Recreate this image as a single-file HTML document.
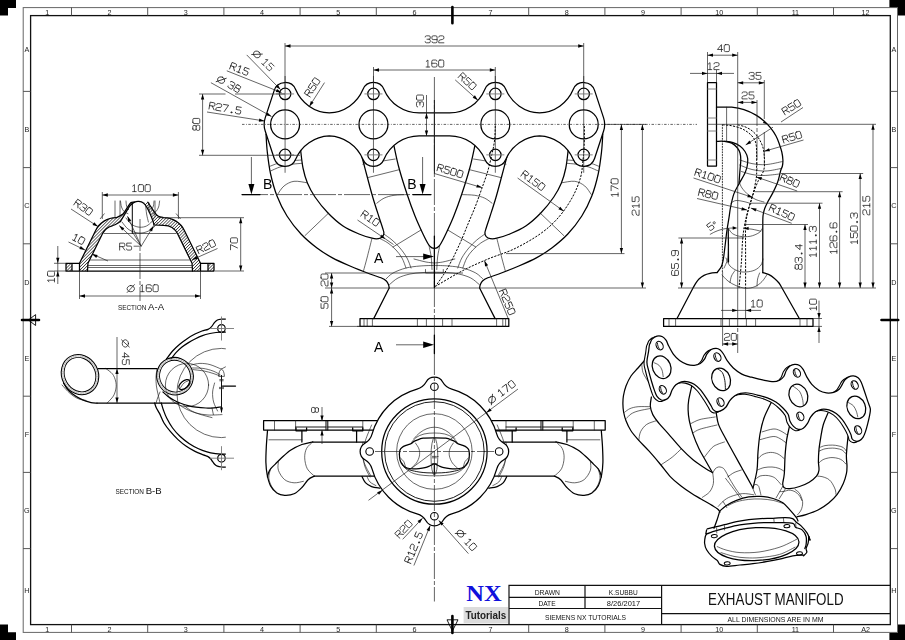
<!DOCTYPE html>
<html><head><meta charset="utf-8"><title>Exhaust Manifold</title><style>
html,body{margin:0;padding:0;background:#fff}
svg{display:block}
.s,.z,.t,.l,.gs{filter:grayscale(1)}
.k{fill:none;stroke:#000;stroke-width:1.25;stroke-linecap:round;stroke-linejoin:round}
.n{fill:none;stroke:#151515;stroke-width:0.65;stroke-linecap:round}
.g{fill:none;stroke:#777;stroke-width:0.9}
.d{fill:none;stroke:#222;stroke-width:0.7}
.d2{fill:none;stroke:#111;stroke-width:1}
.h{fill:none;stroke:#000;stroke-width:1;stroke-dasharray:2.2 1.3}
.h2{fill:none;stroke:#000;stroke-width:0.8;stroke-dasharray:1.8 0.9}
.c{fill:none;stroke:#222;stroke-width:0.7;stroke-dasharray:26 2 4 2}
.c2{fill:none;stroke:#222;stroke-width:0.7;stroke-dasharray:2.5 1.5 0.8 1.5}
.z{font-family:"Liberation Sans",sans-serif;font-size:7.2px;fill:#222;text-anchor:middle}
.t{font-family:"Liberation Sans",sans-serif;font-size:7.8px;fill:#111;text-anchor:middle}
.s{font-family:"Liberation Sans",sans-serif;font-size:14px;fill:#000;text-anchor:middle}
.l{font-family:"Liberation Sans",sans-serif;fill:#111;text-anchor:middle}
</style></head><body>
<svg width="905" height="640" viewBox="0 0 905 640">
<rect width="905" height="640" fill="#fff"/>
<path fill="#000" d="M0,0H16V8H8V15.5H0Z"/>
<path fill="#000" d="M905,0H889.4V8H897.5V15.5H905Z"/>
<path fill="#000" d="M0,640H16V632.3H8V624.5H0Z"/>
<path fill="#000" d="M905,640H889.4V632.4H897.5V624.4H905Z"/>
<rect x="23.2" y="7.6" width="874.3" height="624.8" fill="none" stroke="#666" stroke-width="1"/>
<rect x="30.6" y="15.6" width="859.7" height="609" fill="none" stroke="#111" stroke-width="1.3"/>
<path d="M71.5,7.6V15.6M71.5,624.6V632.4M147.7,7.6V15.6M147.7,624.6V632.4M223.9,7.6V15.6M223.9,624.6V632.4M300.1,7.6V15.6M300.1,624.6V632.4M376.3,7.6V15.6M376.3,624.6V632.4M528.7,7.6V15.6M528.7,624.6V632.4M604.9,7.6V15.6M604.9,624.6V632.4M681.1,7.6V15.6M681.1,624.6V632.4M757.3,7.6V15.6M757.3,624.6V632.4M833.5,7.6V15.6M833.5,624.6V632.4M23.2,91.4H30.6M890.3,91.4H897.5M23.2,167.6H30.6M890.3,167.6H897.5M23.2,243.8H30.6M890.3,243.8H897.5M23.2,396.2H30.6M890.3,396.2H897.5M23.2,472.4H30.6M890.3,472.4H897.5M23.2,548.6H30.6M890.3,548.6H897.5" stroke="#444" stroke-width="0.9" fill="none"/>
<text class="z" x="47.3" y="14.6">1</text>
<text class="z" x="47.3" y="631.6">1</text>
<text class="z" x="109.6" y="14.6">2</text>
<text class="z" x="109.6" y="631.6">2</text>
<text class="z" x="185.8" y="14.6">3</text>
<text class="z" x="185.8" y="631.6">3</text>
<text class="z" x="262" y="14.6">4</text>
<text class="z" x="262" y="631.6">4</text>
<text class="z" x="338.2" y="14.6">5</text>
<text class="z" x="338.2" y="631.6">5</text>
<text class="z" x="414.4" y="14.6">6</text>
<text class="z" x="414.4" y="631.6">6</text>
<text class="z" x="490.6" y="14.6">7</text>
<text class="z" x="490.6" y="631.6">7</text>
<text class="z" x="566.8" y="14.6">8</text>
<text class="z" x="566.8" y="631.6">8</text>
<text class="z" x="643" y="14.6">9</text>
<text class="z" x="643" y="631.6">9</text>
<text class="z" x="719.2" y="14.6">10</text>
<text class="z" x="719.2" y="631.6">10</text>
<text class="z" x="795.4" y="14.6">11</text>
<text class="z" x="795.4" y="631.6">11</text>
<text class="z" x="865.6" y="14.6">12</text>
<text class="z" x="865.6" y="631.6">A2</text>
<text class="z" x="26.9" y="52.1">A</text>
<text class="z" x="893.9" y="52.1">A</text>
<text class="z" x="26.9" y="132.1">B</text>
<text class="z" x="893.9" y="132.1">B</text>
<text class="z" x="26.9" y="208.3">C</text>
<text class="z" x="893.9" y="208.3">C</text>
<text class="z" x="26.9" y="284.5">D</text>
<text class="z" x="893.9" y="284.5">D</text>
<text class="z" x="26.9" y="360.7">E</text>
<text class="z" x="893.9" y="360.7">E</text>
<text class="z" x="26.9" y="436.9">F</text>
<text class="z" x="893.9" y="436.9">F</text>
<text class="z" x="26.9" y="513.1">G</text>
<text class="z" x="893.9" y="513.1">G</text>
<text class="z" x="26.9" y="593.1">H</text>
<text class="z" x="893.9" y="593.1">H</text>
<path d="M452.4,7V23.2M452.4,616V633M22,320H39M881.5,320H898.2" stroke="#000" stroke-width="2.6" stroke-linecap="round" fill="none"/>
<path d="M447,619.8H458L452.4,631Z M35.6,314.6V325.5L28.4,320Z" stroke="#000" stroke-width="0.9" fill="none"/>
<path d="M509,624.6V585.4H890.3M509,597.4H661.6M509,608.5H661.6M585,585.4V608.5M661.6,585.4V624.6M661.6,613.6H890.3" stroke="#111" stroke-width="1.2" fill="none"/>
<rect x="463.6" y="607" width="44.4" height="16.2" fill="#dcdcdc"/>
<text x="484" y="601.1" text-anchor="middle" textLength="35.4" lengthAdjust="spacingAndGlyphs" style="font-family:'Liberation Serif',serif;font-weight:bold;font-size:23.6px;fill:#1010dc">NX</text>
<text class="gs" x="485.8" y="618.6" text-anchor="middle" textLength="40.8" lengthAdjust="spacingAndGlyphs" style="font-family:'Liberation Sans',sans-serif;font-weight:bold;font-size:10.6px;fill:#222">Tutorials</text>
<text class="t" x="547.3" y="594.5" textLength="25.3" lengthAdjust="spacingAndGlyphs">DRAWN</text>
<text class="t" x="623.3" y="594.5" textLength="28.9" lengthAdjust="spacingAndGlyphs">K.SUBBU</text>
<text class="t" x="547" y="605.9" textLength="17.2" lengthAdjust="spacingAndGlyphs">DATE</text>
<text class="t" x="623.5" y="605.9" textLength="33.3" lengthAdjust="spacingAndGlyphs">8/26/2017</text>
<text class="t" x="585.4" y="619.5" textLength="81" lengthAdjust="spacingAndGlyphs">SIEMENS NX TUTORIALS</text>
<text class="gs" x="775.8" y="605.4" text-anchor="middle" textLength="135.5" lengthAdjust="spacingAndGlyphs" style="font-family:'Liberation Sans',sans-serif;font-size:16px;fill:#111">EXHAUST MANIFOLD</text>
<text class="t" x="775.5" y="622" textLength="96" lengthAdjust="spacingAndGlyphs">ALL DIMENSIONS ARE IN MM</text>
<path class="k" d="M266,134C266.22,137 266.53,145.33 267.3,152C268.07,158.67 268.98,166.67 270.6,174C272.22,181.33 274.27,189 277,196C279.73,203 283,209.67 287,216C291,222.33 296,228.67 301,234C306,239.33 311.83,244.07 317,248C322.17,251.93 326.5,254.6 332,257.6C337.5,260.6 343.67,263.27 350,266C356.33,268.73 364.83,272.03 370,274C375.17,275.97 378.28,276.63 381,277.8C383.72,278.97 385.03,279.8 386.3,281C387.57,282.2 388.12,283.83 388.6,285C389.08,286.17 389.1,287.5 389.2,288"/>
<path class="k" d="M602.8,134C602.58,137 602.27,145.33 601.5,152C600.73,158.67 599.82,166.67 598.2,174C596.58,181.33 594.53,189 591.8,196C589.07,203 585.8,209.67 581.8,216C577.8,222.33 572.8,228.67 567.8,234C562.8,239.33 556.97,244.07 551.8,248C546.63,251.93 542.3,254.6 536.8,257.6C531.3,260.6 525.13,263.27 518.8,266C512.47,268.73 503.97,272.03 498.8,274C493.63,275.97 490.52,276.63 487.8,277.8C485.08,278.97 483.77,279.8 482.5,281C481.23,282.2 480.68,283.83 480.2,285C479.72,286.17 479.7,287.5 479.6,288"/>
<path class="k" d="M300.6,150C301,153 301.87,162.5 303,168C304.13,173.5 305.4,178.17 307.4,183C309.4,187.83 311.57,192 315,197C318.43,202 323.33,208.17 328,213C332.67,217.83 337.83,222.5 343,226C348.17,229.5 354.17,231.97 359,234C363.83,236.03 368.75,237.43 372,238.2C375.25,238.97 376.73,238.87 378.5,238.6C380.27,238.33 381.7,237.53 382.6,236.6C383.5,235.67 383.9,234.43 383.9,233C383.9,231.57 383.42,230.67 382.6,228C381.78,225.33 380.6,222 379,217C377.4,212 375,204.83 373,198C371,191.17 368.83,182.83 367,176C365.17,169.17 362.83,160.17 362,157"/>
<path class="k" d="M568.2,150C567.8,153 566.93,162.5 565.8,168C564.67,173.5 563.4,178.17 561.4,183C559.4,187.83 557.23,192 553.8,197C550.37,202 545.47,208.17 540.8,213C536.13,217.83 530.97,222.5 525.8,226C520.63,229.5 514.63,231.97 509.8,234C504.97,236.03 500.05,237.43 496.8,238.2C493.55,238.97 492.07,238.87 490.3,238.6C488.53,238.33 487.1,237.53 486.2,236.6C485.3,235.67 484.9,234.43 484.9,233C484.9,231.57 485.38,230.67 486.2,228C487.02,225.33 488.2,222 489.8,217C491.4,212 493.8,204.83 495.8,198C497.8,191.17 499.97,182.83 501.8,176C503.63,169.17 505.97,160.17 506.8,157"/>
<path class="k" d="M394,146C394.83,149.67 396.83,160 399,168C401.17,176 404.33,186 407,194C409.67,202 412.33,209.33 415,216C417.67,222.67 420.75,229.25 423,234C425.25,238.75 427.08,242.23 428.5,244.5C429.92,246.77 430.52,246.97 431.5,247.6C432.48,248.23 433.43,248.3 434.4,248.3C435.37,248.3 436.32,248.23 437.3,247.6C438.28,246.97 438.88,246.77 440.3,244.5C441.72,242.23 443.55,238.75 445.8,234C448.05,229.25 451.13,222.67 453.8,216C456.47,209.33 459.13,202 461.8,194C464.47,186 467.63,176 469.8,168C471.97,160 473.97,149.67 474.8,146"/>
<path class="k" d="M389.2,288L373.7,318.6M479.6,288L495.1,318.6"/>
<rect class="k" x="360" y="318.6" width="148.8" height="7.8"/>
<path class="n" d="M364,318.6V326.4M367.2,318.6V326.4M372.4,318.6V326.4M417.4,318.6V326.4M426.4,318.6V326.4M442.6,318.6V326.4M452,318.6V326.4M496.6,318.6V326.4M502.8,318.6V326.4M505.6,318.6V326.4"/>
<path class="n" d="M269.5,166.5C270.92,165.97 274.58,164.22 278,163.3C281.42,162.38 286.08,161.55 290,161C293.92,160.45 299.58,160.17 301.5,160"/>
<path class="n" d="M599.3,166.5C597.88,165.97 594.22,164.22 590.8,163.3C587.38,162.38 582.72,161.55 578.8,161C574.88,160.45 569.22,160.17 567.3,160"/>
<path class="n" d="M270.6,171C272.17,170.33 276.43,168.12 280,167C283.57,165.88 288.28,164.92 292,164.3C295.72,163.68 300.58,163.47 302.3,163.3"/>
<path class="n" d="M598.2,171C596.63,170.33 592.37,168.12 588.8,167C585.23,165.88 580.52,164.92 576.8,164.3C573.08,163.68 568.22,163.47 566.5,163.3"/>
<path class="n" d="M277.6,194.4C278.67,193 281.27,188.18 284,186C286.73,183.82 290.17,181.83 294,181.3C297.83,180.77 304.83,182.55 307,182.8"/>
<path class="n" d="M591.2,194.4C590.13,193 587.53,188.18 584.8,186C582.07,183.82 578.63,181.83 574.8,181.3C570.97,180.77 563.97,182.55 561.8,182.8"/>
<path class="n" d="M305,235.6L328.7,213"/>
<path class="n" d="M563.8,235.6L540.1,213"/>
<path class="n" d="M371.8,239C371,242.17 368.37,252.75 367,258C365.63,263.25 364.17,268.42 363.6,270.5"/>
<path class="n" d="M497,239C497.8,242.17 500.43,252.75 501.8,258C503.17,263.25 504.63,268.42 505.2,270.5"/>
<path class="n" d="M362.8,164.2L395.2,159"/>
<path class="n" d="M506,164.2L473.6,159"/>
<path class="n" d="M367.8,177.6L399.6,169.6"/>
<path class="n" d="M501,177.6L469.2,169.6"/>
<path class="n" d="M376.8,203.2C378,202.37 381.13,199.52 384,198.2C386.87,196.88 390.13,195.9 394,195.3C397.87,194.7 405,194.72 407.2,194.6"/>
<path class="n" d="M492,203.2C490.8,202.37 487.67,199.52 484.8,198.2C481.93,196.88 478.67,195.9 474.8,195.3C470.93,194.7 463.8,194.72 461.6,194.6"/>
<path class="n" d="M393,247L421,230"/>
<path class="n" d="M475.8,247L447.8,230"/>
<path class="n" d="M380,238.6C381.33,239.33 385.33,241.1 388,243C390.67,244.9 393.67,247.5 396,250C398.33,252.5 400.33,255 402,258C403.67,261 405.33,266.33 406,268"/>
<path class="n" d="M488.8,238.6C487.47,239.33 483.47,241.1 480.8,243C478.13,244.9 475.13,247.5 472.8,250C470.47,252.5 468.47,255 466.8,258C465.13,261 463.47,266.33 462.8,268"/>
<path class="n" d="M383.8,234C385.17,235 389.3,237.67 392,240C394.7,242.33 397.5,245 400,248C402.5,251 405.17,254.67 407,258C408.83,261.33 410.33,266.33 411,268"/>
<path class="n" d="M485,234C483.63,235 479.5,237.67 476.8,240C474.1,242.33 471.3,245 468.8,248C466.3,251 463.63,254.67 461.8,258C459.97,261.33 458.47,266.33 457.8,268"/>
<path class="n" d="M386,279C387.17,278 389.67,274.83 393,273C396.33,271.17 401.5,269.17 406,268C410.5,266.83 415.27,266.43 420,266C424.73,265.57 432,265.5 434.4,265.4"/>
<path class="n" d="M482.8,279C481.63,278 479.13,274.83 475.8,273C472.47,271.17 467.3,269.17 462.8,268C458.3,266.83 453.53,266.43 448.8,266C444.07,265.57 436.8,265.5 434.4,265.4"/>
<path class="n" d="M389.6,284.5C391,283.42 394.6,279.75 398,278C401.4,276.25 406,274.9 410,274C414,273.1 417.93,272.9 422,272.6C426.07,272.3 432.33,272.27 434.4,272.2"/>
<path class="n" d="M479.2,284.5C477.8,283.42 474.2,279.75 470.8,278C467.4,276.25 462.8,274.9 458.8,274C454.8,273.1 450.87,272.9 446.8,272.6C442.73,272.3 436.47,272.27 434.4,272.2"/>
<path class="n" d="M429,245.5C429.37,247.42 430.7,253 431.2,257C431.7,261 431.87,267.42 432,269.5"/>
<path class="n" d="M439.8,245.5C439.43,247.42 438.1,253 437.6,257C437.1,261 436.93,267.42 436.8,269.5"/>
<path class="n" d="M414,259C416,259.5 422.6,261.33 426,262C429.4,262.67 433,262.83 434.4,263"/>
<path class="n" d="M454.8,259C452.8,259.5 446.2,261.33 442.8,262C439.4,262.67 435.8,262.83 434.4,263"/>
<path class="n" d="M425.5,269.5V273H443.3V269.5"/>
<path d="M274.23,90.36A11.43,11.43 0 0 1 295.64,89.53A38.09,38.09 0 0 0 329.27,112.94A38.09,38.09 0 0 0 362.91,89.53A11.43,11.43 0 0 1 384.01,89.53A38.09,38.09 0 0 0 419.16,112.97L449.64,112.97A38.09,38.09 0 0 0 484.79,89.53A11.43,11.43 0 0 1 505.89,89.53A38.09,38.09 0 0 0 539.53,112.94A38.09,38.09 0 0 0 573.16,89.53A11.43,11.43 0 0 1 594.57,90.36L603.6,117.86A20.95,20.95 0 0 1 603.6,130.94L594.57,158.44A11.43,11.43 0 0 1 573.16,159.27A38.09,38.09 0 0 0 539.53,135.86A38.09,38.09 0 0 0 505.89,159.27A11.43,11.43 0 0 1 484.79,159.27A38.09,38.09 0 0 0 449.64,135.83L419.16,135.83A38.09,38.09 0 0 0 384.01,159.27A11.43,11.43 0 0 1 362.91,159.27A38.09,38.09 0 0 0 329.27,135.86A38.09,38.09 0 0 0 295.64,159.27A11.43,11.43 0 0 1 274.23,158.44L265.2,130.94A20.95,20.95 0 0 1 265.2,117.86Z" fill="#fff" stroke="none"/>
<path class="k" d="M274.23,90.36A11.43,11.43 0 0 1 295.64,89.53A38.09,38.09 0 0 0 329.27,112.94A38.09,38.09 0 0 0 362.91,89.53A11.43,11.43 0 0 1 384.01,89.53A38.09,38.09 0 0 0 419.16,112.97L449.64,112.97A38.09,38.09 0 0 0 484.79,89.53A11.43,11.43 0 0 1 505.89,89.53A38.09,38.09 0 0 0 539.53,112.94A38.09,38.09 0 0 0 573.16,89.53A11.43,11.43 0 0 1 594.57,90.36L603.6,117.86A20.95,20.95 0 0 1 603.6,130.94L594.57,158.44A11.43,11.43 0 0 1 573.16,159.27A38.09,38.09 0 0 0 539.53,135.86A38.09,38.09 0 0 0 505.89,159.27A11.43,11.43 0 0 1 484.79,159.27A38.09,38.09 0 0 0 449.64,135.83L419.16,135.83A38.09,38.09 0 0 0 384.01,159.27A11.43,11.43 0 0 1 362.91,159.27A38.09,38.09 0 0 0 329.27,135.86A38.09,38.09 0 0 0 295.64,159.27A11.43,11.43 0 0 1 274.23,158.44L265.2,130.94A20.95,20.95 0 0 1 265.2,117.86Z"/>
<circle class="k" cx="285.09" cy="124.4" r="14.47"/>
<circle class="k" cx="285.09" cy="93.93" r="5.71"/>
<circle class="k" cx="285.09" cy="154.87" r="5.71"/>
<circle class="k" cx="373.46" cy="124.4" r="14.47"/>
<circle class="k" cx="373.46" cy="93.93" r="5.71"/>
<circle class="k" cx="373.46" cy="154.87" r="5.71"/>
<circle class="k" cx="495.34" cy="124.4" r="14.47"/>
<circle class="k" cx="495.34" cy="93.93" r="5.71"/>
<circle class="k" cx="495.34" cy="154.87" r="5.71"/>
<circle class="k" cx="583.71" cy="124.4" r="14.47"/>
<circle class="k" cx="583.71" cy="93.93" r="5.71"/>
<circle class="k" cx="583.71" cy="154.87" r="5.71"/>
<path class="h" d="M495.3,126C495.18,128.33 495.15,135.33 494.6,140C494.05,144.67 493.18,148.67 492,154C490.82,159.33 489.17,166.33 487.5,172C485.83,177.67 484,182.33 482,188C480,193.67 477.83,200 475.5,206C473.17,212 470.42,218.17 468,224C465.58,229.83 463.58,235.17 461,241C458.42,246.83 455.33,253.5 452.5,259C449.67,264.5 446.85,269.43 444,274C441.15,278.57 436.83,284.33 435.4,286.4"/>
<path class="h" d="M584.4,126C584.37,129.17 584.43,139.33 584.2,145C583.97,150.67 583.63,154.5 583,160C582.37,165.5 582.23,171.67 580.4,178C578.57,184.33 575.73,191.33 572,198C568.27,204.67 563.33,212 558,218C552.67,224 547.33,228.83 540,234C532.67,239.17 522.67,244.83 514,249C505.33,253.17 496.67,255.33 488,259C479.33,262.67 470.77,266.43 462,271C453.23,275.57 439.83,283.83 435.4,286.4"/>
<path class="d2" d="M434.4,100V173.5"/>
<path class="c2" d="M242,124.4H697"/>
<path class="d" d="M605,124.4H646"/>
<path class="n" d="M285.09,76.4V172.4"/>
<path class="g" d="M276.09,93.93H294.09"/>
<path class="g" d="M276.09,154.87H294.09"/>
<path class="n" d="M373.46,76.4V172.4"/>
<path class="g" d="M364.46,93.93H382.46"/>
<path class="g" d="M364.46,154.87H382.46"/>
<path class="n" d="M495.34,76.4V172.4"/>
<path class="g" d="M486.34,93.93H504.34"/>
<path class="g" d="M486.34,154.87H504.34"/>
<path class="n" d="M583.71,76.4V172.4"/>
<path class="g" d="M574.71,93.93H592.71"/>
<path class="g" d="M574.71,154.87H592.71"/>
<path class="c" d="M242,194.6H431"/>
<path class="k" d="M242,194.6H260M413,194.6H431"/>
<path class="d" d="M251.4,157L251.4,188"/>
<path d="M251.4,194.4L248.4,183.9L254.4,183.9Z" fill="#000"/>
<path class="d" d="M422.6,157L422.6,188"/>
<path d="M422.6,194.4L419.6,183.9L425.6,183.9Z" fill="#000"/>
<text class="s" x="267.6" y="189.4">B</text><text class="s" x="412" y="189.4">B</text>
<path class="d" d="M396,256.6L425,256.6"/>
<path d="M434,256.6L423.2,259.8L423.2,253.4Z" fill="#000"/>
<path class="d" d="M396,344.8L425,344.8"/>
<path d="M434,344.8L423.2,348L423.2,341.6Z" fill="#000"/>
<text class="s" x="378.6" y="263">A</text><text class="s" x="378.6" y="351.5">A</text>
<path class="d" d="M285,43L285,88"/>
<path class="d" d="M583.7,43L583.7,88"/>
<path class="d" d="M285,46L583.7,46"/><path d="M285,46L290.5,44.35L290.5,47.65Z" fill="#000"/><path d="M583.7,46L578.2,47.65L578.2,44.35Z" fill="#000"/>
<g transform="translate(434.5,43.4) rotate(0) translate(0,-0.6) scale(1.03,0.87)" fill="none" stroke="#1a1a1a" stroke-width="0.81" stroke-linecap="round" stroke-linejoin="round"><path transform="translate(-9.1,-8)" d="M0,1.3Q0,0 1.3,0H3.7Q5,0 5,1.3V2.6Q5,3.9 3.7,3.9H1.8M3.7,3.9Q5,3.9 5,5.2V6.7Q5,8 3.7,8H1.3Q0,8 0,6.7"/><path transform="translate(-2.5,-8)" d="M0,6.7Q0,8 1.3,8H3.7Q5,8 5,6.7V1.3Q5,0 3.7,0H1.3Q0,0 0,1.3V3Q0,4.3 1.3,4.3H5"/><path transform="translate(4.1,-8)" d="M0,1.4Q0,0 1.4,0H3.6Q5,0 5,1.4V2.6Q5,3.8 3.7,4.1L1.3,4.7Q0,5 0,6.3V8H5"/></g>
<path class="d" d="M373.5,67L373.5,88"/>
<path class="d" d="M495.3,67L495.3,88"/>
<path class="d" d="M373.5,70L495.3,70"/><path d="M373.5,70L379,68.35L379,71.65Z" fill="#000"/><path d="M495.3,70L489.8,71.65L489.8,68.35Z" fill="#000"/>
<g transform="translate(434.5,67.6) rotate(0) translate(0,-0.6) scale(1.03,0.87)" fill="none" stroke="#1a1a1a" stroke-width="0.81" stroke-linecap="round" stroke-linejoin="round"><path transform="translate(-9,-8)" d="M1,1.6L2.6,0V8M0.9,8H4.3"/><path transform="translate(-2.6,-8)" d="M5,1.3Q5,0 3.7,0H1.3Q0,0 0,1.3V6.7Q0,8 1.3,8H3.7Q5,8 5,6.7V5Q5,3.7 3.7,3.7H0"/><path transform="translate(4,-8)" d="M1.3,0H3.7Q5,0 5,1.3V6.7Q5,8 3.7,8H1.3Q0,8 0,6.7V1.3Q0,0 1.3,0Z"/></g>
<path class="d" d="M426.5,95L426.5,135.9"/>
<path d="M426.5,113.1L428.15,118.6L424.85,118.6Z" fill="#000"/>
<path d="M426.5,135.9L424.85,130.4L428.15,130.4Z" fill="#000"/>
<g transform="translate(420,101) rotate(-90) translate(0,3.48) scale(1.03,0.87)" fill="none" stroke="#1a1a1a" stroke-width="0.81" stroke-linecap="round" stroke-linejoin="round"><path transform="translate(-5.8,-8)" d="M0,1.3Q0,0 1.3,0H3.7Q5,0 5,1.3V2.6Q5,3.9 3.7,3.9H1.8M3.7,3.9Q5,3.9 5,5.2V6.7Q5,8 3.7,8H1.3Q0,8 0,6.7"/><path transform="translate(0.8,-8)" d="M1.3,0H3.7Q5,0 5,1.3V6.7Q5,8 3.7,8H1.3Q0,8 0,6.7V1.3Q0,0 1.3,0Z"/></g>
<path class="d" d="M199,94L225.5,94"/>
<path class="d" d="M235,94L285,94"/>
<path class="d" d="M199,155.3L300,155.3"/>
<path class="d" d="M202.6,94L202.6,155.3"/><path d="M202.6,94L204.25,99.5L200.95,99.5Z" fill="#000"/><path d="M202.6,155.3L200.95,149.8L204.25,149.8Z" fill="#000"/>
<g transform="translate(196.3,124.4) rotate(-90) translate(0,3.48) scale(1.03,0.87)" fill="none" stroke="#1a1a1a" stroke-width="0.81" stroke-linecap="round" stroke-linejoin="round"><path transform="translate(-5.8,-8)" d="M1.4,0H3.6Q4.8,0 4.8,1.2V2.6Q4.8,3.8 3.6,3.8H1.4Q0.2,3.8 0.2,2.6V1.2Q0.2,0 1.4,0ZM1.4,3.8Q0,3.8 0,5.1V6.7Q0,8 1.3,8H3.7Q5,8 5,6.7V5.1Q5,3.8 3.6,3.8"/><path transform="translate(0.8,-8)" d="M1.3,0H3.7Q5,0 5,1.3V6.7Q5,8 3.7,8H1.3Q0,8 0,6.7V1.3Q0,0 1.3,0Z"/></g>
<path class="d" d="M246.7,54.9L280.5,89.6"/><path d="M280.5,89.6L275.48,86.81L277.84,84.51Z" fill="#000"/>
<g transform="translate(263.2,60) rotate(45) translate(0,3.48) scale(1.03,0.87)" fill="none" stroke="#1a1a1a" stroke-width="0.81" stroke-linecap="round" stroke-linejoin="round"><path transform="translate(-11.85,-8)" d="M3.7,0.9A3.6,3.6 0 1 1 3.69,0.9ZM0.2,8.9L7.2,-0.1"/><path transform="translate(0.45,-8)" d="M1,1.6L2.6,0V8M0.9,8H4.3"/><path transform="translate(6.85,-8)" d="M4.8,0H0.3V3.4H3.7Q5,3.4 5,4.7V6.7Q5,8 3.7,8H1.3Q0,8 0,6.7"/></g>
<path class="d" d="M226.8,70.8L281.5,92.6"/><path d="M281.5,92.6L275.78,92.1L277,89.03Z" fill="#000"/>
<g transform="translate(239.5,69) rotate(21) translate(0,3.48) scale(1.03,0.87)" fill="none" stroke="#1a1a1a" stroke-width="0.81" stroke-linecap="round" stroke-linejoin="round"><path transform="translate(-9,-8)" d="M0,8V0H3.7Q5,0 5,1.3V2.7Q5,4 3.7,4H0M2.6,4L5,8"/><path transform="translate(-2.4,-8)" d="M1,1.6L2.6,0V8M0.9,8H4.3"/><path transform="translate(4,-8)" d="M4.8,0H0.3V3.4H3.7Q5,3.4 5,4.7V6.7Q5,8 3.7,8H1.3Q0,8 0,6.7"/></g>
<path class="d" d="M210.9,82.7L271.5,116.5"/><path d="M271.5,116.5L265.89,115.26L267.5,112.38Z" fill="#000"/>
<g transform="translate(228.8,83.8) rotate(29) translate(0,3.48) scale(1.03,0.87)" fill="none" stroke="#1a1a1a" stroke-width="0.81" stroke-linecap="round" stroke-linejoin="round"><path transform="translate(-11.95,-8)" d="M3.7,0.9A3.6,3.6 0 1 1 3.69,0.9ZM0.2,8.9L7.2,-0.1"/><path transform="translate(0.35,-8)" d="M0,1.3Q0,0 1.3,0H3.7Q5,0 5,1.3V2.6Q5,3.9 3.7,3.9H1.8M3.7,3.9Q5,3.9 5,5.2V6.7Q5,8 3.7,8H1.3Q0,8 0,6.7"/><path transform="translate(6.95,-8)" d="M1.4,0H3.6Q4.8,0 4.8,1.2V2.6Q4.8,3.8 3.6,3.8H1.4Q0.2,3.8 0.2,2.6V1.2Q0.2,0 1.4,0ZM1.4,3.8Q0,3.8 0,5.1V6.7Q0,8 1.3,8H3.7Q5,8 5,6.7V5.1Q5,3.8 3.6,3.8"/></g>
<path class="d" d="M207,112L264.5,121"/><path d="M264.5,121L258.81,121.78L259.32,118.52Z" fill="#000"/>
<g transform="translate(225.2,108.2) rotate(9.5) translate(0,3.48) scale(1.03,0.87)" fill="none" stroke="#1a1a1a" stroke-width="0.81" stroke-linecap="round" stroke-linejoin="round"><path transform="translate(-15.4,-8)" d="M0,8V0H3.7Q5,0 5,1.3V2.7Q5,4 3.7,4H0M2.6,4L5,8"/><path transform="translate(-8.8,-8)" d="M0,1.4Q0,0 1.4,0H3.6Q5,0 5,1.4V2.6Q5,3.8 3.7,4.1L1.3,4.7Q0,5 0,6.3V8H5"/><path transform="translate(-2.2,-8)" d="M0,0H5L1.8,8"/><path transform="translate(4.4,-8)" d="M2.1,7.1H2.9V8H2.1Z" fill="#1a1a1a"/><path transform="translate(10.4,-8)" d="M4.8,0H0.3V3.4H3.7Q5,3.4 5,4.7V6.7Q5,8 3.7,8H1.3Q0,8 0,6.7"/></g>
<path class="d" d="M324.5,82.6L309.3,106.5"/><path d="M309.3,106.5L310.86,100.97L313.64,102.74Z" fill="#000"/>
<g transform="translate(312.3,87.2) rotate(-57.5) translate(0,3.48) scale(1.03,0.87)" fill="none" stroke="#1a1a1a" stroke-width="0.81" stroke-linecap="round" stroke-linejoin="round"><path transform="translate(-9.1,-8)" d="M0,8V0H3.7Q5,0 5,1.3V2.7Q5,4 3.7,4H0M2.6,4L5,8"/><path transform="translate(-2.5,-8)" d="M4.8,0H0.3V3.4H3.7Q5,3.4 5,4.7V6.7Q5,8 3.7,8H1.3Q0,8 0,6.7"/><path transform="translate(4.1,-8)" d="M1.3,0H3.7Q5,0 5,1.3V6.7Q5,8 3.7,8H1.3Q0,8 0,6.7V1.3Q0,0 1.3,0Z"/></g>
<path class="d" d="M455.2,79.9L477.9,100.2"/><path d="M477.9,100.2L472.7,97.76L474.9,95.3Z" fill="#000"/>
<g transform="translate(467.4,81.3) rotate(42) translate(0,3.48) scale(1.03,0.87)" fill="none" stroke="#1a1a1a" stroke-width="0.81" stroke-linecap="round" stroke-linejoin="round"><path transform="translate(-9.1,-8)" d="M0,8V0H3.7Q5,0 5,1.3V2.7Q5,4 3.7,4H0M2.6,4L5,8"/><path transform="translate(-2.5,-8)" d="M4.8,0H0.3V3.4H3.7Q5,3.4 5,4.7V6.7Q5,8 3.7,8H1.3Q0,8 0,6.7"/><path transform="translate(4.1,-8)" d="M1.3,0H3.7Q5,0 5,1.3V6.7Q5,8 3.7,8H1.3Q0,8 0,6.7V1.3Q0,0 1.3,0Z"/></g>
<path class="d" d="M434.4,173.5L482,187.6"/><path d="M482,187.6L476.26,187.62L477.2,184.46Z" fill="#000"/>
<g transform="translate(450.2,171) rotate(16.5) translate(0,3.48) scale(1.03,0.87)" fill="none" stroke="#1a1a1a" stroke-width="0.81" stroke-linecap="round" stroke-linejoin="round"><path transform="translate(-12.4,-8)" d="M0,8V0H3.7Q5,0 5,1.3V2.7Q5,4 3.7,4H0M2.6,4L5,8"/><path transform="translate(-5.8,-8)" d="M4.8,0H0.3V3.4H3.7Q5,3.4 5,4.7V6.7Q5,8 3.7,8H1.3Q0,8 0,6.7"/><path transform="translate(0.8,-8)" d="M1.3,0H3.7Q5,0 5,1.3V6.7Q5,8 3.7,8H1.3Q0,8 0,6.7V1.3Q0,0 1.3,0Z"/><path transform="translate(7.4,-8)" d="M1.3,0H3.7Q5,0 5,1.3V6.7Q5,8 3.7,8H1.3Q0,8 0,6.7V1.3Q0,0 1.3,0Z"/></g>
<path class="d" d="M517.6,178L563.8,211.2"/><path d="M563.8,211.2L558.37,209.33L560.3,206.65Z" fill="#000"/>
<g transform="translate(533.2,180.6) rotate(35.7) translate(0,3.48) scale(1.03,0.87)" fill="none" stroke="#1a1a1a" stroke-width="0.81" stroke-linecap="round" stroke-linejoin="round"><path transform="translate(-12.3,-8)" d="M0,8V0H3.7Q5,0 5,1.3V2.7Q5,4 3.7,4H0M2.6,4L5,8"/><path transform="translate(-5.7,-8)" d="M1,1.6L2.6,0V8M0.9,8H4.3"/><path transform="translate(0.7,-8)" d="M4.8,0H0.3V3.4H3.7Q5,3.4 5,4.7V6.7Q5,8 3.7,8H1.3Q0,8 0,6.7"/><path transform="translate(7.3,-8)" d="M1.3,0H3.7Q5,0 5,1.3V6.7Q5,8 3.7,8H1.3Q0,8 0,6.7V1.3Q0,0 1.3,0Z"/></g>
<path class="d" d="M357.5,220L385.5,239"/><path d="M385.5,239L380.02,237.28L381.88,234.55Z" fill="#000"/>
<path class="d" d="M385.5,239L393.5,244.5"/>
<g transform="translate(370.4,218.4) rotate(34) translate(0,3.48) scale(1.03,0.87)" fill="none" stroke="#1a1a1a" stroke-width="0.81" stroke-linecap="round" stroke-linejoin="round"><path transform="translate(-9,-8)" d="M0,8V0H3.7Q5,0 5,1.3V2.7Q5,4 3.7,4H0M2.6,4L5,8"/><path transform="translate(-2.4,-8)" d="M1,1.6L2.6,0V8M0.9,8H4.3"/><path transform="translate(4,-8)" d="M1.3,0H3.7Q5,0 5,1.3V6.7Q5,8 3.7,8H1.3Q0,8 0,6.7V1.3Q0,0 1.3,0Z"/></g>
<path class="d" d="M508,318L484.5,260.8"/><path d="M484.5,260.8L488.12,265.26L485.06,266.51Z" fill="#000"/>
<g transform="translate(507.4,302) rotate(67.6) translate(0,3.48) scale(1.03,0.87)" fill="none" stroke="#1a1a1a" stroke-width="0.81" stroke-linecap="round" stroke-linejoin="round"><path transform="translate(-12.4,-8)" d="M0,8V0H3.7Q5,0 5,1.3V2.7Q5,4 3.7,4H0M2.6,4L5,8"/><path transform="translate(-5.8,-8)" d="M0,1.4Q0,0 1.4,0H3.6Q5,0 5,1.4V2.6Q5,3.8 3.7,4.1L1.3,4.7Q0,5 0,6.3V8H5"/><path transform="translate(0.8,-8)" d="M4.8,0H0.3V3.4H3.7Q5,3.4 5,4.7V6.7Q5,8 3.7,8H1.3Q0,8 0,6.7"/><path transform="translate(7.4,-8)" d="M1.3,0H3.7Q5,0 5,1.3V6.7Q5,8 3.7,8H1.3Q0,8 0,6.7V1.3Q0,0 1.3,0Z"/></g>
<path class="d" d="M506,253.6L624.5,253.6"/>
<path class="d" d="M621.4,124.4L621.4,253.6"/><path d="M621.4,124.4L623.05,129.9L619.75,129.9Z" fill="#000"/><path d="M621.4,253.6L619.75,248.1L623.05,248.1Z" fill="#000"/>
<g transform="translate(614.6,188) rotate(-90) translate(0,3.48) scale(1.03,0.87)" fill="none" stroke="#1a1a1a" stroke-width="0.81" stroke-linecap="round" stroke-linejoin="round"><path transform="translate(-9,-8)" d="M1,1.6L2.6,0V8M0.9,8H4.3"/><path transform="translate(-2.6,-8)" d="M0,0H5L1.8,8"/><path transform="translate(4,-8)" d="M1.3,0H3.7Q5,0 5,1.3V6.7Q5,8 3.7,8H1.3Q0,8 0,6.7V1.3Q0,0 1.3,0Z"/></g>
<path class="d" d="M642.4,124.4L642.4,288"/><path d="M642.4,124.4L644.05,129.9L640.75,129.9Z" fill="#000"/><path d="M642.4,288L640.75,282.5L644.05,282.5Z" fill="#000"/>
<g transform="translate(635.6,206) rotate(-90) translate(0,3.48) scale(1.03,0.87)" fill="none" stroke="#1a1a1a" stroke-width="0.81" stroke-linecap="round" stroke-linejoin="round"><path transform="translate(-9,-8)" d="M0,1.4Q0,0 1.4,0H3.6Q5,0 5,1.4V2.6Q5,3.8 3.7,4.1L1.3,4.7Q0,5 0,6.3V8H5"/><path transform="translate(-2.4,-8)" d="M1,1.6L2.6,0V8M0.9,8H4.3"/><path transform="translate(4,-8)" d="M4.8,0H0.3V3.4H3.7Q5,3.4 5,4.7V6.7Q5,8 3.7,8H1.3Q0,8 0,6.7"/></g>
<path class="d" d="M325,288L646,288"/>
<path class="d" d="M325,273L463,273"/>
<path class="d" d="M357,326.4L374,326.4"/>
<path class="d" d="M331.6,273L331.6,288"/><path d="M331.6,273L333.25,278.5L329.95,278.5Z" fill="#000"/><path d="M331.6,288L329.95,282.5L333.25,282.5Z" fill="#000"/>
<path class="d" d="M331.6,288L331.6,326.4"/><path d="M331.6,288L333.25,293.5L329.95,293.5Z" fill="#000"/><path d="M331.6,326.4L329.95,320.9L333.25,320.9Z" fill="#000"/>
<path class="d" d="M329,326.4L360,326.4"/>
<g transform="translate(324.5,280) rotate(-90) translate(0,3.48) scale(1.03,0.87)" fill="none" stroke="#1a1a1a" stroke-width="0.81" stroke-linecap="round" stroke-linejoin="round"><path transform="translate(-5.8,-8)" d="M0,1.4Q0,0 1.4,0H3.6Q5,0 5,1.4V2.6Q5,3.8 3.7,4.1L1.3,4.7Q0,5 0,6.3V8H5"/><path transform="translate(0.8,-8)" d="M1.3,0H3.7Q5,0 5,1.3V6.7Q5,8 3.7,8H1.3Q0,8 0,6.7V1.3Q0,0 1.3,0Z"/></g>
<g transform="translate(324.5,302.6) rotate(-90) translate(0,3.48) scale(1.03,0.87)" fill="none" stroke="#1a1a1a" stroke-width="0.81" stroke-linecap="round" stroke-linejoin="round"><path transform="translate(-5.8,-8)" d="M4.8,0H0.3V3.4H3.7Q5,3.4 5,4.7V6.7Q5,8 3.7,8H1.3Q0,8 0,6.7"/><path transform="translate(0.8,-8)" d="M1.3,0H3.7Q5,0 5,1.3V6.7Q5,8 3.7,8H1.3Q0,8 0,6.7V1.3Q0,0 1.3,0Z"/></g>
<rect class="k" x="707.5" y="82.5" width="9" height="83.6"/>
<path class="g" d="M707.5,89H716.5M707.5,118H716.5M707.5,131H716.5M707.5,160H716.5"/>
<path class="k" d="M716.5,107.2C719.03,107.2 727.12,106.8 731.7,107.2C736.28,107.6 739.95,108.28 744,109.6C748.05,110.92 752.67,113.2 756,115.1C759.33,117 761.57,118.87 764,121C766.43,123.13 768.6,125.4 770.6,127.9C772.6,130.4 774.57,133.37 776,136C777.43,138.63 778.23,141.03 779.2,143.7C780.17,146.37 781.18,149.28 781.8,152C782.42,154.72 782.8,157.67 782.9,160C783,162.33 782.77,164.25 782.4,166C782.03,167.75 781.48,167.83 780.7,170.5C779.92,173.17 779.02,178.27 777.7,182C776.38,185.73 774.42,189.67 772.8,192.9C771.18,196.13 769.37,198.77 768,201.4C766.63,204.03 765.43,206.27 764.6,208.7C763.77,211.13 763.3,212.78 763,216C762.7,219.22 762.83,218.57 762.8,228C762.77,237.43 762.8,265.17 762.8,272.6"/>
<path class="k" d="M716.5,141.3C717.82,141.3 721.87,141 724.4,141.3C726.93,141.6 729.6,142.07 731.7,143.1C733.8,144.13 735.62,145.85 737,147.5C738.38,149.15 739.37,150.92 740,153C740.63,155.08 740.8,157.17 740.8,160C740.8,162.83 740.3,166.17 740,170C739.7,173.83 739.17,180.83 739,183"/>
<path class="k" d="M724.4,141.3C725.83,141.52 730.37,141.78 733,142.6C735.63,143.42 738.2,144.72 740.2,146.2C742.2,147.68 743.77,149.53 745,151.5C746.23,153.47 747.23,155.58 747.6,158C747.97,160.42 747.57,163.67 747.2,166C746.83,168.33 746,170.37 745.4,172C744.8,173.63 744.72,173.73 743.6,175.8C742.48,177.87 740.33,181.35 738.7,184.4C737.07,187.45 735.15,190.33 733.8,194.1C732.45,197.87 731.4,203.07 730.6,207C729.8,210.93 729.55,214.2 729,217.7C728.45,221.2 727.75,225.05 727.3,228C726.85,230.95 726.72,232.07 726.3,235.4C725.88,238.73 725.28,244.13 724.8,248C724.32,251.87 723.97,255.5 723.4,258.6C722.83,261.7 722.47,264.27 721.4,266.6C720.33,268.93 717.73,271.6 717,272.6"/>
<path class="k" d="M728.2,228.6C728.23,231.33 728.35,239.43 728.4,245C728.45,250.57 728.48,259.17 728.5,262"/>
<path class="k" d="M717,272.6C715.83,272.73 712.17,272.93 710,273.4C707.83,273.87 705.83,274.47 704,275.4C702.17,276.33 700.42,277.63 699,279C697.58,280.37 696.5,282.1 695.5,283.6C694.5,285.1 693.42,287.27 693,288L677,318.5"/>
<path class="k" d="M762.8,272.6C763.83,272.93 767.05,273.63 769,274.6C770.95,275.57 772.83,277 774.5,278.4C776.17,279.8 777.75,281.4 779,283C780.25,284.6 781.5,287.17 782,288L799.3,318.5"/>
<rect class="k" x="663.6" y="318.5" width="149.4" height="7.9"/>
<path class="n" d="M669,318.5V326.4M675.6,318.5V326.4M721,318.5V326.4M729.4,318.5V326.4M746.4,318.5V326.4M755.6,318.5V326.4M800,318.5V326.4M807,318.5V326.4"/>
<path class="h2" d="M722.4,124.4V272"/>
<path class="h" d="M722.5,124.8C723.92,124.93 728.08,125.07 731,125.6C733.92,126.13 737.5,127.1 740,128C742.5,128.9 744.17,129.83 746,131C747.83,132.17 749.58,133.58 751,135C752.42,136.42 753.63,137.83 754.5,139.5C755.37,141.17 755.85,142.67 756.2,145C756.55,147.33 756.53,149.67 756.6,153.5C756.67,157.33 756.63,164.08 756.6,168C756.57,171.92 756.92,173 756.4,177C755.88,181 754.57,187.5 753.5,192C752.43,196.5 751.08,200.33 750,204C748.92,207.67 747.93,210.33 747,214C746.07,217.67 745.13,221.67 744.4,226C743.67,230.33 743.1,234 742.6,240C742.1,246 742,254 741.4,262C740.8,270 739.4,283.67 739,288"/>
<path class="h" d="M737.8,124.8C739,125.13 742.8,125.93 745,126.8C747.2,127.67 749.17,128.7 751,130C752.83,131.3 754.55,132.93 756,134.6C757.45,136.27 758.62,138.1 759.7,140C760.78,141.9 761.78,143.83 762.5,146C763.22,148.17 763.67,150.17 764,153C764.33,155.83 764.58,160 764.5,163C764.42,166 764.48,168.17 763.5,171C762.52,173.83 760.08,176.83 758.6,180C757.12,183.17 755.87,186.5 754.6,190C753.33,193.5 752.17,197.17 751,201C749.83,204.83 748.5,208.83 747.6,213C746.7,217.17 745.93,219.83 745.6,226C745.27,232.17 745.6,239.67 745.6,250C745.6,260.33 745.6,281.67 745.6,288"/>
<path class="n" d="M726.6,107.2L726.6,141.3"/>
<path class="n" d="M740,160C742,160.6 747.67,162.83 752,163.6C756.33,164.37 760.9,164.95 766,164.6C771.1,164.25 779.83,162.02 782.6,161.5"/>
<path class="n" d="M739.6,165C741.67,165.75 747.6,168.5 752,169.5C756.4,170.5 761.17,171.17 766,171C770.83,170.83 778.5,168.92 781,168.5"/>
<path class="n" d="M741.5,171.5C743.25,172 748.25,173.83 752,174.5C755.75,175.17 759.42,175.58 764,175.5C768.58,175.42 776.92,174.25 779.5,174"/>
<path class="n" d="M739.3,182C739.75,183 740.47,185.83 742,188C743.53,190.17 746.17,193.07 748.5,195C750.83,196.93 753.42,198.43 756,199.6C758.58,200.77 762.67,201.6 764,202"/>
<path class="n" d="M731,203C731.83,202.58 733.83,200.73 736,200.5C738.17,200.27 741.5,201.08 744,201.6C746.5,202.12 749.83,203.27 751,203.6"/>
<path class="n" d="M728.9,229.2C729.5,229.93 730.72,232.42 732.5,233.6C734.28,234.78 736.65,235.85 739.6,236.3C742.55,236.75 746.97,236.9 750.2,236.3C753.43,235.7 756.97,234.03 759,232.7C761.03,231.37 761.83,229.03 762.4,228.3"/>
<path class="n" d="M744,228.5C745.33,228.62 749.2,228.75 752,229.2C754.8,229.65 759.33,230.87 760.8,231.2"/>
<path class="n" d="M726,258C726.67,259.33 728,263.83 730,266C732,268.17 735.33,270 738,271C740.67,272 743.17,272.17 746,272C748.83,271.83 752.5,271.17 755,270C757.5,268.83 759.67,266.83 761,265C762.33,263.17 762.67,260 763,259"/>
<path class="n" d="M722,275C723,276 725.67,279.23 728,281C730.33,282.77 733,284.38 736,285.6C739,286.82 742.83,288.13 746,288.3C749.17,288.47 752.33,287.72 755,286.6C757.67,285.48 760,283.6 762,281.6C764,279.6 766.17,275.77 767,274.6"/>
<path class="n" d="M730,282.6C730.25,281.5 730.67,278 731.5,276C732.33,274 734.42,271.5 735,270.6"/>
<path class="n" d="M757,286C757.1,284.83 757.17,281.17 757.6,279C758.03,276.83 759.27,274 759.6,273"/>
<path class="n" d="M728.6,245C728.43,247.33 728.37,255.17 727.6,259C726.83,262.83 724.6,266.5 724,268"/>
<path class="d" d="M707.5,124.3H850"/>
<path class="d" d="M722.6,272V346"/>
<path class="d" d="M737.7,52V300"/>
<path class="c" d="M737.7,300V353"/>
<path class="c" d="M757,100V170"/>
<path class="d" d="M764.3,80V119"/>
<path class="c" d="M764.3,132V165"/>
<path class="d" d="M745.6,288V318"/>
<path class="d" d="M707.5,52L707.5,82"/>
<path class="d" d="M707.5,55.2L737.7,55.2"/><path d="M707.5,55.2L713,53.55L713,56.85Z" fill="#000"/><path d="M737.7,55.2L732.2,56.85L732.2,53.55Z" fill="#000"/>
<g transform="translate(723.4,52.2) rotate(0) translate(0,-0.6) scale(1.03,0.87)" fill="none" stroke="#1a1a1a" stroke-width="0.81" stroke-linecap="round" stroke-linejoin="round"><path transform="translate(-5.8,-8)" d="M3.9,8V0L0,5.6H5"/><path transform="translate(0.8,-8)" d="M1.3,0H3.7Q5,0 5,1.3V6.7Q5,8 3.7,8H1.3Q0,8 0,6.7V1.3Q0,0 1.3,0Z"/></g>
<path class="d" d="M716.5,70L716.5,82"/>
<path class="d" d="M690,73.4L734,73.4"/>
<path d="M707.5,73.4L702,75.05L702,71.75Z" fill="#000"/>
<path d="M716.5,73.4L722,71.75L722,75.05Z" fill="#000"/>
<g transform="translate(713.2,70.2) rotate(0) translate(0,-0.6) scale(1.03,0.87)" fill="none" stroke="#1a1a1a" stroke-width="0.81" stroke-linecap="round" stroke-linejoin="round"><path transform="translate(-5.7,-8)" d="M1,1.6L2.6,0V8M0.9,8H4.3"/><path transform="translate(0.7,-8)" d="M0,1.4Q0,0 1.4,0H3.6Q5,0 5,1.4V2.6Q5,3.8 3.7,4.1L1.3,4.7Q0,5 0,6.3V8H5"/></g>
<path class="d" d="M737.7,82.8L764.3,82.8"/><path d="M737.7,82.8L743.2,81.15L743.2,84.45Z" fill="#000"/><path d="M764.3,82.8L758.8,84.45L758.8,81.15Z" fill="#000"/>
<g transform="translate(755,80) rotate(0) translate(0,-0.6) scale(1.03,0.87)" fill="none" stroke="#1a1a1a" stroke-width="0.81" stroke-linecap="round" stroke-linejoin="round"><path transform="translate(-5.8,-8)" d="M0,1.3Q0,0 1.3,0H3.7Q5,0 5,1.3V2.6Q5,3.9 3.7,3.9H1.8M3.7,3.9Q5,3.9 5,5.2V6.7Q5,8 3.7,8H1.3Q0,8 0,6.7"/><path transform="translate(0.8,-8)" d="M4.8,0H0.3V3.4H3.7Q5,3.4 5,4.7V6.7Q5,8 3.7,8H1.3Q0,8 0,6.7"/></g>
<path class="d" d="M737.7,102.4L757,102.4"/><path d="M737.7,102.4L743.2,100.75L743.2,104.05Z" fill="#000"/><path d="M757,102.4L751.5,104.05L751.5,100.75Z" fill="#000"/>
<g transform="translate(748,99.5) rotate(0) translate(0,-0.6) scale(1.03,0.87)" fill="none" stroke="#1a1a1a" stroke-width="0.81" stroke-linecap="round" stroke-linejoin="round"><path transform="translate(-5.8,-8)" d="M0,1.4Q0,0 1.4,0H3.6Q5,0 5,1.4V2.6Q5,3.8 3.7,4.1L1.3,4.7Q0,5 0,6.3V8H5"/><path transform="translate(0.8,-8)" d="M4.8,0H0.3V3.4H3.7Q5,3.4 5,4.7V6.7Q5,8 3.7,8H1.3Q0,8 0,6.7"/></g>
<path class="d" d="M803,107.5L781,122"/>
<path class="d" d="M773,127.2L745.7,144.9"/><path d="M745.7,144.9L749.42,140.52L751.21,143.29Z" fill="#000"/>
<g transform="translate(791.4,107) rotate(-31) translate(0,3.48) scale(1.03,0.87)" fill="none" stroke="#1a1a1a" stroke-width="0.81" stroke-linecap="round" stroke-linejoin="round"><path transform="translate(-9.1,-8)" d="M0,8V0H3.7Q5,0 5,1.3V2.7Q5,4 3.7,4H0M2.6,4L5,8"/><path transform="translate(-2.5,-8)" d="M4.8,0H0.3V3.4H3.7Q5,3.4 5,4.7V6.7Q5,8 3.7,8H1.3Q0,8 0,6.7"/><path transform="translate(4.1,-8)" d="M1.3,0H3.7Q5,0 5,1.3V6.7Q5,8 3.7,8H1.3Q0,8 0,6.7V1.3Q0,0 1.3,0Z"/></g>
<path d="M767.4,124.3L762.9,123.09L764.1,121.01Z" fill="#000"/>
<path class="d" d="M803.5,140L764.2,151.3"/><path d="M764.2,151.3L769.03,148.19L769.94,151.37Z" fill="#000"/>
<g transform="translate(792,137) rotate(-16.5) translate(0,3.48) scale(1.03,0.87)" fill="none" stroke="#1a1a1a" stroke-width="0.81" stroke-linecap="round" stroke-linejoin="round"><path transform="translate(-9.1,-8)" d="M0,8V0H3.7Q5,0 5,1.3V2.7Q5,4 3.7,4H0M2.6,4L5,8"/><path transform="translate(-2.5,-8)" d="M4.8,0H0.3V3.4H3.7Q5,3.4 5,4.7V6.7Q5,8 3.7,8H1.3Q0,8 0,6.7"/><path transform="translate(4.1,-8)" d="M1.3,0H3.7Q5,0 5,1.3V6.7Q5,8 3.7,8H1.3Q0,8 0,6.7V1.3Q0,0 1.3,0Z"/></g>
<path class="d" d="M693.5,178L753,197.5"/><path d="M753,197.5L747.26,197.36L748.29,194.22Z" fill="#000"/>
<g transform="translate(707.8,175.8) rotate(18) translate(0,3.48) scale(1.03,0.87)" fill="none" stroke="#1a1a1a" stroke-width="0.81" stroke-linecap="round" stroke-linejoin="round"><path transform="translate(-12.3,-8)" d="M0,8V0H3.7Q5,0 5,1.3V2.7Q5,4 3.7,4H0M2.6,4L5,8"/><path transform="translate(-5.7,-8)" d="M1,1.6L2.6,0V8M0.9,8H4.3"/><path transform="translate(0.7,-8)" d="M1.3,0H3.7Q5,0 5,1.3V6.7Q5,8 3.7,8H1.3Q0,8 0,6.7V1.3Q0,0 1.3,0Z"/><path transform="translate(7.3,-8)" d="M1.3,0H3.7Q5,0 5,1.3V6.7Q5,8 3.7,8H1.3Q0,8 0,6.7V1.3Q0,0 1.3,0Z"/></g>
<path class="d" d="M697,198.5L747,210"/><path d="M747,210L741.27,210.38L742.01,207.16Z" fill="#000"/>
<g transform="translate(708.3,194.1) rotate(13) translate(0,3.48) scale(1.03,0.87)" fill="none" stroke="#1a1a1a" stroke-width="0.81" stroke-linecap="round" stroke-linejoin="round"><path transform="translate(-9.1,-8)" d="M0,8V0H3.7Q5,0 5,1.3V2.7Q5,4 3.7,4H0M2.6,4L5,8"/><path transform="translate(-2.5,-8)" d="M1.4,0H3.6Q4.8,0 4.8,1.2V2.6Q4.8,3.8 3.6,3.8H1.4Q0.2,3.8 0.2,2.6V1.2Q0.2,0 1.4,0ZM1.4,3.8Q0,3.8 0,5.1V6.7Q0,8 1.3,8H3.7Q5,8 5,6.7V5.1Q5,3.8 3.6,3.8"/><path transform="translate(4.1,-8)" d="M1.3,0H3.7Q5,0 5,1.3V6.7Q5,8 3.7,8H1.3Q0,8 0,6.7V1.3Q0,0 1.3,0Z"/></g>
<path class="d" d="M797.2,191L756.4,177"/><path d="M756.4,177L762.14,177.22L761.07,180.35Z" fill="#000"/>
<g transform="translate(789.9,180.7) rotate(23) translate(0,3.48) scale(1.03,0.87)" fill="none" stroke="#1a1a1a" stroke-width="0.81" stroke-linecap="round" stroke-linejoin="round"><path transform="translate(-9.1,-8)" d="M0,8V0H3.7Q5,0 5,1.3V2.7Q5,4 3.7,4H0M2.6,4L5,8"/><path transform="translate(-2.5,-8)" d="M1.4,0H3.6Q4.8,0 4.8,1.2V2.6Q4.8,3.8 3.6,3.8H1.4Q0.2,3.8 0.2,2.6V1.2Q0.2,0 1.4,0ZM1.4,3.8Q0,3.8 0,5.1V6.7Q0,8 1.3,8H3.7Q5,8 5,6.7V5.1Q5,3.8 3.6,3.8"/><path transform="translate(4.1,-8)" d="M1.3,0H3.7Q5,0 5,1.3V6.7Q5,8 3.7,8H1.3Q0,8 0,6.7V1.3Q0,0 1.3,0Z"/></g>
<path class="d" d="M791.7,223.3L750.9,208.1"/><path d="M750.9,208.1L756.63,208.47L755.48,211.57Z" fill="#000"/>
<g transform="translate(782,212.4) rotate(24) translate(0,3.48) scale(1.03,0.87)" fill="none" stroke="#1a1a1a" stroke-width="0.81" stroke-linecap="round" stroke-linejoin="round"><path transform="translate(-12.3,-8)" d="M0,8V0H3.7Q5,0 5,1.3V2.7Q5,4 3.7,4H0M2.6,4L5,8"/><path transform="translate(-5.7,-8)" d="M1,1.6L2.6,0V8M0.9,8H4.3"/><path transform="translate(0.7,-8)" d="M4.8,0H0.3V3.4H3.7Q5,3.4 5,4.7V6.7Q5,8 3.7,8H1.3Q0,8 0,6.7"/><path transform="translate(7.3,-8)" d="M1.3,0H3.7Q5,0 5,1.3V6.7Q5,8 3.7,8H1.3Q0,8 0,6.7V1.3Q0,0 1.3,0Z"/></g>
<path class="d" d="M709.9,234.5C710.75,234.05 713.15,232.62 715,231.8C716.85,230.98 719,230.17 721,229.6C723,229.03 725,228.67 727,228.4C729,228.13 732,228.07 733,228"/>
<path d="M737.3,228L732.7,229.65L732.7,226.35Z" fill="#000"/>
<path d="M744,228.4L748.6,226.75L748.6,230.05Z" fill="#000"/>
<g transform="translate(710.4,226.6) rotate(-35) translate(0,3.48) scale(1.03,0.87)" fill="none" stroke="#1a1a1a" stroke-width="0.81" stroke-linecap="round" stroke-linejoin="round"><path transform="translate(-2.5,-8)" d="M4.8,0H0.3V3.4H3.7Q5,3.4 5,4.7V6.7Q5,8 3.7,8H1.3Q0,8 0,6.7"/></g>
<circle class="d" cx="714.2" cy="222.8" r="1.1"/>
<path class="d" d="M678.4,238L744,238"/>
<path class="d" d="M681.6,238L681.6,288"/><path d="M681.6,238L683.25,243.5L679.95,243.5Z" fill="#000"/><path d="M681.6,288L679.95,282.5L683.25,282.5Z" fill="#000"/>
<g transform="translate(675,263) rotate(-90) translate(0,3.48) scale(1.03,0.87)" fill="none" stroke="#1a1a1a" stroke-width="0.81" stroke-linecap="round" stroke-linejoin="round"><path transform="translate(-12.1,-8)" d="M5,1.3Q5,0 3.7,0H1.3Q0,0 0,1.3V6.7Q0,8 1.3,8H3.7Q5,8 5,6.7V5Q5,3.7 3.7,3.7H0"/><path transform="translate(-5.5,-8)" d="M4.8,0H0.3V3.4H3.7Q5,3.4 5,4.7V6.7Q5,8 3.7,8H1.3Q0,8 0,6.7"/><path transform="translate(1.1,-8)" d="M2.1,7.1H2.9V8H2.1Z" fill="#1a1a1a"/><path transform="translate(7.1,-8)" d="M0,6.7Q0,8 1.3,8H3.7Q5,8 5,6.7V1.3Q5,0 3.7,0H1.3Q0,0 0,1.3V3Q0,4.3 1.3,4.3H5"/></g>
<path class="d" d="M678,288L876,288"/>
<path class="d" d="M744.8,224.5L808,224.5"/>
<path class="d" d="M805,224.5L805,288"/><path d="M805,224.5L806.65,230L803.35,230Z" fill="#000"/><path d="M805,288L803.35,282.5L806.65,282.5Z" fill="#000"/>
<path class="d" d="M751,203.2L822.5,203.2"/>
<path class="d" d="M819.5,203.2L819.5,288"/><path d="M819.5,203.2L821.15,208.7L817.85,208.7Z" fill="#000"/><path d="M819.5,288L817.85,282.5L821.15,282.5Z" fill="#000"/>
<path class="d" d="M754.6,191.7L842.6,191.7"/>
<path class="d" d="M839.6,191.7L839.6,288"/><path d="M839.6,191.7L841.25,197.2L837.95,197.2Z" fill="#000"/><path d="M839.6,288L837.95,282.5L841.25,282.5Z" fill="#000"/>
<path class="d" d="M781,173.5L863.2,173.5"/>
<path class="d" d="M860.2,173.5L860.2,288"/><path d="M860.2,173.5L861.85,179L858.55,179Z" fill="#000"/><path d="M860.2,288L858.55,282.5L861.85,282.5Z" fill="#000"/>
<path class="d" d="M850,124.3L876,124.3"/>
<path class="d" d="M873,124.3L873,288"/><path d="M873,124.3L874.65,129.8L871.35,129.8Z" fill="#000"/><path d="M873,288L871.35,282.5L874.65,282.5Z" fill="#000"/>
<g transform="translate(798.6,257) rotate(-90) translate(0,3.48) scale(1.03,0.87)" fill="none" stroke="#1a1a1a" stroke-width="0.81" stroke-linecap="round" stroke-linejoin="round"><path transform="translate(-12.1,-8)" d="M1.4,0H3.6Q4.8,0 4.8,1.2V2.6Q4.8,3.8 3.6,3.8H1.4Q0.2,3.8 0.2,2.6V1.2Q0.2,0 1.4,0ZM1.4,3.8Q0,3.8 0,5.1V6.7Q0,8 1.3,8H3.7Q5,8 5,6.7V5.1Q5,3.8 3.6,3.8"/><path transform="translate(-5.5,-8)" d="M0,1.3Q0,0 1.3,0H3.7Q5,0 5,1.3V2.6Q5,3.9 3.7,3.9H1.8M3.7,3.9Q5,3.9 5,5.2V6.7Q5,8 3.7,8H1.3Q0,8 0,6.7"/><path transform="translate(1.1,-8)" d="M2.1,7.1H2.9V8H2.1Z" fill="#1a1a1a"/><path transform="translate(7.1,-8)" d="M3.9,8V0L0,5.6H5"/></g>
<g transform="translate(812.8,242) rotate(-90) translate(0,3.48) scale(1.03,0.87)" fill="none" stroke="#1a1a1a" stroke-width="0.81" stroke-linecap="round" stroke-linejoin="round"><path transform="translate(-15.1,-8)" d="M1,1.6L2.6,0V8M0.9,8H4.3"/><path transform="translate(-8.7,-8)" d="M1,1.6L2.6,0V8M0.9,8H4.3"/><path transform="translate(-2.3,-8)" d="M1,1.6L2.6,0V8M0.9,8H4.3"/><path transform="translate(4.1,-8)" d="M2.1,7.1H2.9V8H2.1Z" fill="#1a1a1a"/><path transform="translate(10.1,-8)" d="M0,1.3Q0,0 1.3,0H3.7Q5,0 5,1.3V2.6Q5,3.9 3.7,3.9H1.8M3.7,3.9Q5,3.9 5,5.2V6.7Q5,8 3.7,8H1.3Q0,8 0,6.7"/></g>
<g transform="translate(833.4,238.5) rotate(-90) translate(0,3.48) scale(1.03,0.87)" fill="none" stroke="#1a1a1a" stroke-width="0.81" stroke-linecap="round" stroke-linejoin="round"><path transform="translate(-15.3,-8)" d="M1,1.6L2.6,0V8M0.9,8H4.3"/><path transform="translate(-8.9,-8)" d="M0,1.4Q0,0 1.4,0H3.6Q5,0 5,1.4V2.6Q5,3.8 3.7,4.1L1.3,4.7Q0,5 0,6.3V8H5"/><path transform="translate(-2.3,-8)" d="M5,1.3Q5,0 3.7,0H1.3Q0,0 0,1.3V6.7Q0,8 1.3,8H3.7Q5,8 5,6.7V5Q5,3.7 3.7,3.7H0"/><path transform="translate(4.3,-8)" d="M2.1,7.1H2.9V8H2.1Z" fill="#1a1a1a"/><path transform="translate(10.3,-8)" d="M5,1.3Q5,0 3.7,0H1.3Q0,0 0,1.3V6.7Q0,8 1.3,8H3.7Q5,8 5,6.7V5Q5,3.7 3.7,3.7H0"/></g>
<g transform="translate(854,228.8) rotate(-90) translate(0,3.48) scale(1.03,0.87)" fill="none" stroke="#1a1a1a" stroke-width="0.81" stroke-linecap="round" stroke-linejoin="round"><path transform="translate(-15.3,-8)" d="M1,1.6L2.6,0V8M0.9,8H4.3"/><path transform="translate(-8.9,-8)" d="M4.8,0H0.3V3.4H3.7Q5,3.4 5,4.7V6.7Q5,8 3.7,8H1.3Q0,8 0,6.7"/><path transform="translate(-2.3,-8)" d="M1.3,0H3.7Q5,0 5,1.3V6.7Q5,8 3.7,8H1.3Q0,8 0,6.7V1.3Q0,0 1.3,0Z"/><path transform="translate(4.3,-8)" d="M2.1,7.1H2.9V8H2.1Z" fill="#1a1a1a"/><path transform="translate(10.3,-8)" d="M0,1.3Q0,0 1.3,0H3.7Q5,0 5,1.3V2.6Q5,3.9 3.7,3.9H1.8M3.7,3.9Q5,3.9 5,5.2V6.7Q5,8 3.7,8H1.3Q0,8 0,6.7"/></g>
<g transform="translate(866.3,205.6) rotate(-90) translate(0,3.48) scale(1.03,0.87)" fill="none" stroke="#1a1a1a" stroke-width="0.81" stroke-linecap="round" stroke-linejoin="round"><path transform="translate(-9,-8)" d="M0,1.4Q0,0 1.4,0H3.6Q5,0 5,1.4V2.6Q5,3.8 3.7,4.1L1.3,4.7Q0,5 0,6.3V8H5"/><path transform="translate(-2.4,-8)" d="M1,1.6L2.6,0V8M0.9,8H4.3"/><path transform="translate(4,-8)" d="M4.8,0H0.3V3.4H3.7Q5,3.4 5,4.7V6.7Q5,8 3.7,8H1.3Q0,8 0,6.7"/></g>
<path class="d" d="M721,310.4L761,310.4"/>
<path d="M737.7,310.4L732.2,312.05L732.2,308.75Z" fill="#000"/>
<path d="M745.6,310.4L751.1,308.75L751.1,312.05Z" fill="#000"/>
<g transform="translate(756.4,307.6) rotate(0) translate(0,-0.6) scale(1.03,0.87)" fill="none" stroke="#1a1a1a" stroke-width="0.81" stroke-linecap="round" stroke-linejoin="round"><path transform="translate(-5.7,-8)" d="M1,1.6L2.6,0V8M0.9,8H4.3"/><path transform="translate(0.7,-8)" d="M1.3,0H3.7Q5,0 5,1.3V6.7Q5,8 3.7,8H1.3Q0,8 0,6.7V1.3Q0,0 1.3,0Z"/></g>
<path class="d" d="M722.6,344L737.7,344"/><path d="M722.6,344L728.1,342.35L728.1,345.65Z" fill="#000"/><path d="M737.7,344L732.2,345.65L732.2,342.35Z" fill="#000"/>
<g transform="translate(730.4,341) rotate(0) translate(0,-0.6) scale(1.03,0.87)" fill="none" stroke="#1a1a1a" stroke-width="0.81" stroke-linecap="round" stroke-linejoin="round"><path transform="translate(-5.8,-8)" d="M0,1.4Q0,0 1.4,0H3.6Q5,0 5,1.4V2.6Q5,3.8 3.7,4.1L1.3,4.7Q0,5 0,6.3V8H5"/><path transform="translate(0.8,-8)" d="M1.3,0H3.7Q5,0 5,1.3V6.7Q5,8 3.7,8H1.3Q0,8 0,6.7V1.3Q0,0 1.3,0Z"/></g>
<path class="d" d="M813,318.5L822,318.5"/>
<path class="d" d="M813,326.4L822,326.4"/>
<path class="d" d="M819,300.6L819,343"/>
<path d="M819,318.5L817.35,313L820.65,313Z" fill="#000"/>
<path d="M819,326.4L820.65,331.9L817.35,331.9Z" fill="#000"/>
<g transform="translate(813,305) rotate(-90) translate(0,3.48) scale(1.03,0.87)" fill="none" stroke="#1a1a1a" stroke-width="0.81" stroke-linecap="round" stroke-linejoin="round"><path transform="translate(-5.7,-8)" d="M1,1.6L2.6,0V8M0.9,8H4.3"/><path transform="translate(0.7,-8)" d="M1.3,0H3.7Q5,0 5,1.3V6.7Q5,8 3.7,8H1.3Q0,8 0,6.7V1.3Q0,0 1.3,0Z"/></g>
<defs><pattern id="hat" width="2.2" height="2.2" patternUnits="userSpaceOnUse" patternTransform="rotate(-45)"><line x1="0" y1="1.1" x2="2.2" y2="1.1" stroke="#111" stroke-width="0.6"/></pattern></defs>
<path d="M200.5,271V263.3L184.37,230.46A22.85,22.85 0 0 0 163.88,217.7C162.97,217.45 159.9,217.03 158.4,216.2C156.9,215.37 156.08,214.17 154.9,212.7C153.72,211.23 152.48,209.15 151.3,207.4C150.12,205.65 148.38,203.07 147.8,202.2L143.4,203C143.98,203.73 145.73,205.48 146.9,207.4C148.07,209.32 149.37,212.15 150.4,214.5C151.43,216.85 152.5,219.75 153.1,221.5C153.7,223.25 153.85,224.42 154,225L163.88,225.3A15.25,15.25 0 0 1 177.55,233.81L192.04,263.3L192.5,271Z" fill="url(#hat)" stroke="none"/>
<path class="k" d="M200.5,271V263.3L184.37,230.46A22.85,22.85 0 0 0 163.88,217.7C162.97,217.45 159.9,217.03 158.4,216.2C156.9,215.37 156.08,214.17 154.9,212.7C153.72,211.23 152.48,209.15 151.3,207.4C150.12,205.65 148.38,203.07 147.8,202.2"/>
<path class="k" d="M154,225L163.88,225.3A15.25,15.25 0 0 1 177.55,233.81L192.04,263.3L192.5,271"/>
<path d="M79.5,271V263.3L95.63,230.46A22.85,22.85 0 0 1 116.12,217.7C117.27,217.08 121.12,215.72 123,214C124.88,212.28 126.07,209.3 127.4,207.4C128.73,205.5 129.82,203.48 131,202.6C132.18,201.72 133.92,202.18 134.5,202.1L134.5,202.1C133.77,202.68 131.57,203.83 130.1,205.6C128.63,207.37 127.32,210.05 125.7,212.7C124.08,215.35 121.28,220.03 120.4,221.5C119.73,221.92 117.77,223.28 116.4,224C115.03,224.72 112.88,225.52 112.17,225.82A15.25,15.25 0 0 0 102.45,233.81L87.96,263.3L87.5,271Z" fill="url(#hat)" stroke="none"/>
<path class="k" d="M79.5,271V263.3L95.63,230.46A22.85,22.85 0 0 1 116.12,217.7C117.27,217.08 121.12,215.72 123,214C124.88,212.28 126.07,209.3 127.4,207.4C128.73,205.5 129.82,203.48 131,202.6C132.18,201.72 133.92,202.18 134.5,202.1"/>
<path class="k" d="M120.4,221.5C119.73,221.92 117.77,223.28 116.4,224C115.03,224.72 112.88,225.52 112.17,225.82A15.25,15.25 0 0 0 102.45,233.81L87.96,263.3L87.5,271"/>
<path class="k" d="M120.4,221.5C121.28,220.03 124.08,215.35 125.7,212.7C127.32,210.05 128.63,207.37 130.1,205.6C131.57,203.83 133.03,202.8 134.5,202.1C135.97,201.4 137.42,201.25 138.9,201.4C140.38,201.55 142.07,202 143.4,203C144.73,204 145.73,205.48 146.9,207.4C148.07,209.32 149.37,212.15 150.4,214.5C151.43,216.85 152.5,219.75 153.1,221.5C153.7,223.25 153.85,224.42 154,225"/>
<rect x="66" y="263.3" width="6" height="7.7" fill="url(#hat)" stroke="none"/><rect x="208" y="263.3" width="6" height="7.7" fill="url(#hat)" stroke="none"/>
<path class="k" d="M66,271H214M66,263.3V271M214,263.3V271M66,263.3H79.5M200.5,263.3H214M72,263.3V271M208,263.3V271"/>
<path class="n" d="M88,265.5H192M88,267.5H192M90.5,260H189.5M104,233.5H176"/>
<path class="n" d="M115,201V217.5M120,201V215M149,203V212M155,201V217"/>
<path class="n" d="M120.5,201C120.67,202 120.92,205.25 121.5,207C122.08,208.75 122.92,210.4 124,211.5C125.08,212.6 127.33,213.25 128,213.6"/>
<path class="n" d="M126,201C126.1,201.83 126.17,204.57 126.6,206C127.03,207.43 128.27,209 128.6,209.6"/>
<path class="n" d="M159.6,201C159.43,202 159.2,205.25 158.6,207C158,208.75 157,210.33 156,211.5C155,212.67 153.17,213.58 152.6,214"/>
<path class="n" d="M154,201C153.9,201.83 153.8,204.5 153.4,206C153,207.5 151.9,209.33 151.6,210"/>
<path class="n" d="M122,222C123,223.17 125.67,227.23 128,229C130.33,230.77 133.33,232 136,232.6C138.67,233.2 141.33,233.2 144,232.6C146.67,232 149.73,230.67 152,229C154.27,227.33 156.67,223.67 157.6,222.6"/>
<path class="n" d="M126,218C126.83,219 129,222.5 131,224C133,225.5 135.67,226.57 138,227C140.33,227.43 142.9,227.27 145,226.6C147.1,225.93 149.1,224.43 150.6,223C152.1,221.57 153.43,218.83 154,218"/>
<path class="n" d="M145.6,205C145.77,206.5 146.13,211.17 146.6,214C147.07,216.83 148.1,220.67 148.4,222"/>
<path class="k" style="stroke-width:1" d="M132.3,204V233.5"/>
<path class="c" d="M140,219V301"/>
<path class="d" d="M102.3,192L102.3,219"/>
<path class="d" d="M178.4,192L178.4,219"/>
<path class="d" d="M102.3,195L178.4,195"/><path d="M102.3,195L107.8,193.35L107.8,196.65Z" fill="#000"/><path d="M178.4,195L172.9,196.65L172.9,193.35Z" fill="#000"/>
<g transform="translate(141,192.2) rotate(0) translate(0,-0.6) scale(1.03,0.87)" fill="none" stroke="#1a1a1a" stroke-width="0.81" stroke-linecap="round" stroke-linejoin="round"><path transform="translate(-9,-8)" d="M1,1.6L2.6,0V8M0.9,8H4.3"/><path transform="translate(-2.6,-8)" d="M1.3,0H3.7Q5,0 5,1.3V6.7Q5,8 3.7,8H1.3Q0,8 0,6.7V1.3Q0,0 1.3,0Z"/><path transform="translate(4,-8)" d="M1.3,0H3.7Q5,0 5,1.3V6.7Q5,8 3.7,8H1.3Q0,8 0,6.7V1.3Q0,0 1.3,0Z"/></g>
<path class="d" d="M100,219L104.5,213.5"/>
<path class="d" d="M180.6,219L176,213.5"/>
<path class="d" d="M71,209L98,226.6"/><path d="M98,226.6L92.49,224.98L94.29,222.21Z" fill="#000"/>
<g transform="translate(83.4,207.4) rotate(35) translate(0,3.48) scale(1.03,0.87)" fill="none" stroke="#1a1a1a" stroke-width="0.81" stroke-linecap="round" stroke-linejoin="round"><path transform="translate(-9.1,-8)" d="M0,8V0H3.7Q5,0 5,1.3V2.7Q5,4 3.7,4H0M2.6,4L5,8"/><path transform="translate(-2.5,-8)" d="M0,1.3Q0,0 1.3,0H3.7Q5,0 5,1.3V2.6Q5,3.9 3.7,3.9H1.8M3.7,3.9Q5,3.9 5,5.2V6.7Q5,8 3.7,8H1.3Q0,8 0,6.7"/><path transform="translate(4.1,-8)" d="M1.3,0H3.7Q5,0 5,1.3V6.7Q5,8 3.7,8H1.3Q0,8 0,6.7V1.3Q0,0 1.3,0Z"/></g>
<path class="d" d="M68.5,242L85,250"/>
<path d="M85,250L79.33,249.07L80.78,246.11Z" fill="#000"/>
<path class="d" d="M92,254L108,261"/>
<path d="M92,254L97.67,254.93L96.22,257.89Z" fill="#000"/>
<g transform="translate(78.5,239) rotate(27) translate(0,3.48) scale(1.03,0.87)" fill="none" stroke="#1a1a1a" stroke-width="0.81" stroke-linecap="round" stroke-linejoin="round"><path transform="translate(-5.7,-8)" d="M1,1.6L2.6,0V8M0.9,8H4.3"/><path transform="translate(0.7,-8)" d="M1.3,0H3.7Q5,0 5,1.3V6.7Q5,8 3.7,8H1.3Q0,8 0,6.7V1.3Q0,0 1.3,0Z"/></g>
<g transform="translate(125.6,246.6) rotate(0) translate(0,3.48) scale(1.03,0.87)" fill="none" stroke="#1a1a1a" stroke-width="0.81" stroke-linecap="round" stroke-linejoin="round"><path transform="translate(-5.8,-8)" d="M0,8V0H3.7Q5,0 5,1.3V2.7Q5,4 3.7,4H0M2.6,4L5,8"/><path transform="translate(0.8,-8)" d="M4.8,0H0.3V3.4H3.7Q5,3.4 5,4.7V6.7Q5,8 3.7,8H1.3Q0,8 0,6.7"/></g>
<path class="d" d="M133.6,246.2L141.2,246.2"/>
<path class="d" d="M141.2,246.2L119.2,225.6"/><path d="M119.2,225.6L124.34,228.15L122.09,230.56Z" fill="#000"/>
<path class="d" d="M141.2,246.2L127.5,216.3"/><path d="M127.5,216.3L131.29,220.61L128.29,221.99Z" fill="#000"/>
<path class="d" d="M141.2,246.2L153.5,226"/><path d="M153.5,226L152.05,231.56L149.23,229.84Z" fill="#000"/>
<path class="d" d="M141.2,246.2L132.7,232.4"/>
<path class="d" d="M217.5,248.5L192,259.8"/><path d="M192,259.8L196.36,256.06L197.7,259.08Z" fill="#000"/>
<g transform="translate(206,246.5) rotate(-25) translate(0,3.48) scale(1.03,0.87)" fill="none" stroke="#1a1a1a" stroke-width="0.81" stroke-linecap="round" stroke-linejoin="round"><path transform="translate(-9.1,-8)" d="M0,8V0H3.7Q5,0 5,1.3V2.7Q5,4 3.7,4H0M2.6,4L5,8"/><path transform="translate(-2.5,-8)" d="M0,1.4Q0,0 1.4,0H3.6Q5,0 5,1.4V2.6Q5,3.8 3.7,4.1L1.3,4.7Q0,5 0,6.3V8H5"/><path transform="translate(4.1,-8)" d="M1.3,0H3.7Q5,0 5,1.3V6.7Q5,8 3.7,8H1.3Q0,8 0,6.7V1.3Q0,0 1.3,0Z"/></g>
<path class="d" d="M158,217.7L244,217.7"/>
<path class="d" d="M215,271L244,271"/>
<path class="d" d="M240.7,217.7L240.7,271"/><path d="M240.7,217.7L242.35,223.2L239.05,223.2Z" fill="#000"/><path d="M240.7,271L239.05,265.5L242.35,265.5Z" fill="#000"/>
<g transform="translate(234,243.8) rotate(-90) translate(0,3.48) scale(1.03,0.87)" fill="none" stroke="#1a1a1a" stroke-width="0.81" stroke-linecap="round" stroke-linejoin="round"><path transform="translate(-5.8,-8)" d="M0,0H5L1.8,8"/><path transform="translate(0.8,-8)" d="M1.3,0H3.7Q5,0 5,1.3V6.7Q5,8 3.7,8H1.3Q0,8 0,6.7V1.3Q0,0 1.3,0Z"/></g>
<path class="d" d="M54,263.3L66,263.3"/>
<path class="d" d="M54,271L66,271"/>
<path class="d" d="M57.8,246L57.8,284"/>
<path d="M57.8,263.3L56.15,257.8L59.45,257.8Z" fill="#000"/>
<path d="M57.8,271L59.45,276.5L56.15,276.5Z" fill="#000"/>
<g transform="translate(51,277) rotate(-90) translate(0,3.48) scale(1.03,0.87)" fill="none" stroke="#1a1a1a" stroke-width="0.81" stroke-linecap="round" stroke-linejoin="round"><path transform="translate(-5.7,-8)" d="M1,1.6L2.6,0V8M0.9,8H4.3"/><path transform="translate(0.7,-8)" d="M1.3,0H3.7Q5,0 5,1.3V6.7Q5,8 3.7,8H1.3Q0,8 0,6.7V1.3Q0,0 1.3,0Z"/></g>
<path class="d" d="M79.5,271L79.5,299"/>
<path class="d" d="M200.5,271L200.5,299"/>
<path class="d" d="M79.5,296L200.5,296"/><path d="M79.5,296L85,294.35L85,297.65Z" fill="#000"/><path d="M200.5,296L195,297.65L195,294.35Z" fill="#000"/>
<g transform="translate(142.6,288.2) rotate(0) translate(0,3.48) scale(1.03,0.87)" fill="none" stroke="#1a1a1a" stroke-width="0.81" stroke-linecap="round" stroke-linejoin="round"><path transform="translate(-15.15,-8)" d="M3.7,0.9A3.6,3.6 0 1 1 3.69,0.9ZM0.2,8.9L7.2,-0.1"/><path transform="translate(-2.85,-8)" d="M1,1.6L2.6,0V8M0.9,8H4.3"/><path transform="translate(3.55,-8)" d="M5,1.3Q5,0 3.7,0H1.3Q0,0 0,1.3V6.7Q0,8 1.3,8H3.7Q5,8 5,6.7V5Q5,3.7 3.7,3.7H0"/><path transform="translate(10.15,-8)" d="M1.3,0H3.7Q5,0 5,1.3V6.7Q5,8 3.7,8H1.3Q0,8 0,6.7V1.3Q0,0 1.3,0Z"/></g>
<text class="l" x="141" y="310.4"><tspan font-size="6.4">SECTION </tspan><tspan font-size="9.6">A-A</tspan></text>
<clipPath id="cbb"><rect x="40" y="310" width="185.8" height="170"/></clipPath>
<g clip-path="url(#cbb)">
<path class="k" d="M166.5,359C167.52,357.67 170.35,353.5 172.6,351C174.85,348.5 177.52,346.1 180,344C182.48,341.9 185,340.07 187.5,338.4C190,336.73 192.58,335.23 195,334C197.42,332.77 199.83,331.77 202,331C204.17,330.23 206.4,330.13 208,329.4C209.6,328.67 210.53,327.73 211.6,326.6C212.67,325.47 213.43,323.7 214.4,322.6C215.37,321.5 216.22,320.58 217.4,320C218.58,319.42 220.07,319.25 221.5,319.1C222.93,318.95 225.25,319.1 226,319.1"/>
<path class="k" d="M171,359C171.83,357.93 174.17,354.6 176,352.6C177.83,350.6 179.92,348.67 182,347C184.08,345.33 186.33,343.93 188.5,342.6C190.67,341.27 192.67,340.17 195,339C197.33,337.83 200,336.52 202.5,335.6C205,334.68 207.75,334.02 210,333.5C212.25,332.98 214.08,332.72 216,332.5C217.92,332.28 219.83,332.25 221.5,332.2C223.17,332.15 225.25,332.2 226,332.2"/>
<path class="k" d="M154.6,403C154.9,403.83 155.58,406.27 156.4,408C157.22,409.73 158.23,410.9 159.5,413.4C160.77,415.9 162.17,419.95 164,423C165.83,426.05 168.17,428.93 170.5,431.7C172.83,434.47 175.37,437.17 178,439.6C180.63,442.03 183.47,444.33 186.3,446.3C189.13,448.27 192.17,449.98 195,451.4C197.83,452.82 201.2,453.97 203.3,454.8C205.4,455.63 206.38,455.73 207.6,456.4C208.82,457.07 209.77,457.93 210.6,458.8C211.43,459.67 211.93,460.7 212.6,461.6C213.27,462.5 213.8,463.43 214.6,464.2C215.4,464.97 216.25,465.73 217.4,466.2C218.55,466.67 220.07,466.87 221.5,467C222.93,467.13 225.25,467 226,467"/>
<path class="k" d="M161.3,403C161.65,404.17 162.48,407.45 163.4,410C164.32,412.55 165.27,415.3 166.8,418.3C168.33,421.3 170.37,424.97 172.6,428C174.83,431.03 177.47,433.93 180.2,436.5C182.93,439.07 185.95,441.37 189,443.4C192.05,445.43 195.5,447.3 198.5,448.7C201.5,450.1 204.17,450.98 207,451.8C209.83,452.62 213.08,453.2 215.5,453.6C217.92,454 219.75,454.1 221.5,454.2C223.25,454.3 225.25,454.2 226,454.2"/>
<circle class="k" cx="221.5" cy="328.5" r="3.8" stroke-width="1.1"/>
<circle class="k" cx="221.5" cy="458.2" r="3.8" stroke-width="1.1"/>
<circle class="n" cx="221.5" cy="393" r="44.6"/>
<circle class="n" cx="187" cy="385" r="21.6"/>
<path class="n" d="M191,365C192.5,364.73 196.83,363.47 200,363.4C203.17,363.33 206.5,363.67 210,364.6C213.5,365.53 219.17,368.27 221,369"/>
<path class="n" d="M192.5,368C194.25,368.07 199.58,367.9 203,368.4C206.42,368.9 210.17,369.97 213,371C215.83,372.03 218.83,374 220,374.6"/>
<path class="n" d="M193,369.6C194.83,369.83 200.67,370.37 204,371C207.33,371.63 210.33,372.57 213,373.4C215.67,374.23 218.83,375.57 220,376"/>
<path class="n" d="M214.6,383C214.27,384.5 212.77,388.83 212.6,392C212.43,395.17 212.77,398.83 213.6,402C214.43,405.17 216.93,409.5 217.6,411"/>
<path class="n" d="M178,404C179.33,404.83 183,407.5 186,409C189,410.5 192.33,412 196,413C199.67,414 203.67,414.73 208,415C212.33,415.27 219.67,414.67 222,414.6"/>
<path class="n" d="M183,404.6C184.17,405.5 187.33,408.43 190,410C192.67,411.57 195.33,412.73 199,414C202.67,415.27 209.83,417 212,417.6"/>
<path class="n" d="M212,408L213.4,414.6"/>
<path class="n" d="M157,368.6C156.83,370 156.1,374.1 156,377C155.9,379.9 156.07,383.17 156.4,386C156.73,388.83 157.4,391.17 158,394C158.6,396.83 159.67,401.5 160,403"/>
<path class="n" d="M160,392C159.6,393 158.27,396.12 157.6,398C156.93,399.88 156.27,402.42 156,403.3"/>
<path class="n" d="M218.6,376Q218.8,370.6 221.5,369Q224.2,370.6 224.4,376Z"/>
<path class="n" d="M221.5,369L226,366.6"/>
<path class="d2" d="M221.5,375V412"/>
<path d="M221.5,413.4L220.1,407.4L222.9,407.4Z" fill="#000"/>
<path class="d" d="M219.4,379.6H223.6M219.4,380.8H223.6M219,387.4H224M219,388.6H224"/>
</g>
<path class="g" d="M221.5,316.5V340.5M210,328.5H234"/>
<path class="g" d="M221.5,446.2V470.2M210,458.2H234"/>
<path class="k" d="M222.5,386H235.5"/>
<path class="k" d="M163,392C163.83,392.73 166.17,395.03 168,396.4C169.83,397.77 172,399.1 174,400.2C176,401.3 177.67,402.1 180,403C182.33,403.9 185.33,404.9 188,405.6C190.67,406.3 193,406.8 196,407.2C199,407.6 203,407.9 206,408C209,408.1 211.57,407.97 214,407.8C216.43,407.63 219.5,407.13 220.6,407"/>
<path class="k" d="M98,368.6H157M97,403.1H179"/>
<path class="k" d="M63.5,383C64.08,383.93 65.48,386.77 67,388.6C68.52,390.43 70.43,392.33 72.6,394C74.77,395.67 77.77,397.4 80,398.6C82.23,399.8 84.17,400.53 86,401.2C87.83,401.87 89.17,402.28 91,402.6C92.83,402.92 96,403.02 97,403.1"/>
<path class="n" d="M106,368.6C107.08,369.5 110.9,371.93 112.5,374C114.1,376.07 115.02,378.67 115.6,381C116.18,383.33 116.37,385.5 116,388C115.63,390.5 114.9,393.48 113.4,396C111.9,398.52 108.07,401.92 107,403.1"/>
<path class="n" d="M62,385C63.33,386.4 67.33,391.13 70,393.4C72.67,395.67 75.33,397.43 78,398.6C80.67,399.77 84.67,400.1 86,400.4"/>
<ellipse class="n" cx="80" cy="374.6" rx="16.75" ry="19.15" transform="rotate(-28 80 374.6)" style="stroke:#bbb;stroke-width:1.3;stroke-dasharray:0.9 1.5"/>
<ellipse class="k" cx="80" cy="374.6" rx="18.2" ry="20.6" transform="rotate(-28 80 374.6)" style="stroke-width:1.05"/>
<ellipse class="k" cx="80" cy="374.6" rx="15.3" ry="17.7" transform="rotate(-28 80 374.6)" style="stroke-width:0.9"/>
<ellipse class="n" cx="175" cy="376.2" rx="16.75" ry="17.45" transform="rotate(-25 175 376.2)" style="stroke:#bbb;stroke-width:1.3;stroke-dasharray:0.9 1.5"/>
<ellipse class="k" cx="175" cy="376.2" rx="18.2" ry="18.9" transform="rotate(-25 175 376.2)" style="stroke-width:1.05"/>
<ellipse class="k" cx="175" cy="376.2" rx="15.3" ry="16" transform="rotate(-25 175 376.2)" style="stroke-width:0.9"/>
<ellipse class="k" cx="184.4" cy="384.6" rx="6.6" ry="3.6" transform="rotate(-38 184.4 384.6)"/>
<path class="n" d="M180,388.6C180.67,387.67 182.43,384.37 184,383C185.57,381.63 188.5,380.83 189.4,380.4"/>
<path class="d" d="M117,337L117,368.6"/>
<path class="d" d="M117,368.6L117,403.1"/><path d="M117,368.6L118.65,374.1L115.35,374.1Z" fill="#000"/><path d="M117,403.1L115.35,397.6L118.65,397.6Z" fill="#000"/>
<g transform="translate(125.8,343.4) rotate(90) translate(0,3.48) scale(1.03,0.87)" fill="none" stroke="#1a1a1a" stroke-width="0.81" stroke-linecap="round" stroke-linejoin="round"><path transform="translate(-3.65,-8)" d="M3.7,0.9A3.6,3.6 0 1 1 3.69,0.9ZM0.2,8.9L7.2,-0.1"/></g>
<g transform="translate(125.8,358.6) rotate(90) translate(0,3.48) scale(1.03,0.87)" fill="none" stroke="#1a1a1a" stroke-width="0.81" stroke-linecap="round" stroke-linejoin="round"><path transform="translate(-5.8,-8)" d="M3.9,8V0L0,5.6H5"/><path transform="translate(0.8,-8)" d="M4.8,0H0.3V3.4H3.7Q5,3.4 5,4.7V6.7Q5,8 3.7,8H1.3Q0,8 0,6.7"/></g>
<text class="l" x="138.6" y="494.4"><tspan font-size="6.4">SECTION </tspan><tspan font-size="9.6">B-B</tspan></text>
<path class="k" d="M263.6,420.6H605.2V430H263.6Z"/>
<path class="n" d="M274.5,420.6V430M594.3,420.6V430"/>
<path class="n" d="M295.6,420.6V430M573.2,420.6V430"/>
<path class="n" d="M362.8,420.6V430M506,420.6V430"/>
<path class="k" style="stroke-width:1" d="M326,420.6V430M327.8,420.6V430M541,420.6V430M542.8,420.6V430"/>
<path class="k" style="stroke-width:0.9" d="M295.6,427H326M327.8,427H362.8M506,427H541M542.8,427H573.2"/>
<path class="k" d="M296,427.8V430.8H306.6V427.8M301.9,430.8V442M352.7,427.8V430.8H362.8V427.8M356.6,430.8V442"/>
<path class="k" d="M572.8,427.8V430.8H562.2V427.8M566.9,430.8V442M516.1,427.8V430.8H506,427.8M512.2,430.8V442"/>
<path class="k" d="M312.8,442H372M314.4,476.1H380"/>
<path class="k" d="M556,442H496.8M554.4,476.1H488.8"/>
<path class="k" d="M267.5,430.5C267.3,433.23 266.57,441.57 266.3,446.9C266.03,452.23 265.75,457.82 265.9,462.5C266.05,467.18 266.42,471.1 267.2,475C267.98,478.9 268.98,482.9 270.6,485.9C272.22,488.9 274.55,491.43 276.9,493C279.25,494.57 281.83,495.17 284.7,495.3C287.57,495.43 291.23,495.1 294.1,493.8C296.97,492.5 299.57,489.85 301.9,487.5C304.23,485.15 306.02,481.6 308.1,479.7C310.18,477.8 313.35,476.7 314.4,476.1"/>
<path class="k" d="M312.8,441.9C310.98,442.33 305.55,443.15 301.9,444.5C298.25,445.85 294.28,447.78 290.9,450C287.52,452.22 284.2,455.45 281.6,457.8C279,460.15 277.13,462.27 275.3,464.1C273.47,465.93 271.77,467.25 270.6,468.8C269.43,470.35 268.83,472.03 268.3,473.4C267.77,474.77 267.55,476.4 267.4,477"/>
<path class="k" d="M601.3,430.5C601.5,433.23 602.23,441.57 602.5,446.9C602.77,452.23 603.05,457.82 602.9,462.5C602.75,467.18 602.38,471.1 601.6,475C600.82,478.9 599.82,482.9 598.2,485.9C596.58,488.9 594.25,491.43 591.9,493C589.55,494.57 586.97,495.17 584.1,495.3C581.23,495.43 577.57,495.1 574.7,493.8C571.83,492.5 569.23,489.85 566.9,487.5C564.57,485.15 562.78,481.6 560.7,479.7C558.62,477.8 555.45,476.7 554.4,476.1"/>
<path class="k" d="M556,441.9C557.82,442.33 563.25,443.15 566.9,444.5C570.55,445.85 574.52,447.78 577.9,450C581.28,452.22 584.6,455.45 587.2,457.8C589.8,460.15 591.67,462.27 593.5,464.1C595.33,465.93 597.03,467.25 598.2,468.8C599.37,470.35 599.97,472.03 600.5,473.4C601.03,474.77 601.25,476.4 601.4,477"/>
<path class="n" d="M269,439.8L301.9,439.8"/>
<path class="n" d="M599.8,439.8L566.9,439.8"/>
<path class="n" d="M312.8,441.9C311.77,442.98 307.95,445.75 306.6,448.4C305.25,451.05 304.58,454.4 304.7,457.8C304.82,461.2 305.68,465.75 307.3,468.8C308.92,471.85 313.22,474.88 314.4,476.1"/>
<path class="n" d="M556,441.9C557.03,442.98 560.85,445.75 562.2,448.4C563.55,451.05 564.22,454.4 564.1,457.8C563.98,461.2 563.12,465.75 561.5,468.8C559.88,471.85 555.58,474.88 554.4,476.1"/>
<path class="n" d="M278.4,461.7C278.4,463.13 277.35,467.3 278.4,470.3C279.45,473.3 282.08,477.62 284.7,479.7C287.32,481.78 290.98,482.53 294.1,482.8C297.22,483.07 301.85,481.55 303.4,481.3"/>
<path class="n" d="M590.4,461.7C590.4,463.13 591.45,467.3 590.4,470.3C589.35,473.3 586.72,477.62 584.1,479.7C581.48,481.78 577.82,482.53 574.7,482.8C571.58,483.07 566.95,481.55 565.4,481.3"/>
<path class="n" d="M270.6,468.8C270.3,470.35 268.53,474.98 268.8,478.1C269.07,481.22 270.67,484.85 272.2,487.5C273.73,490.15 277.03,492.92 278,494"/>
<path class="n" d="M598.2,468.8C598.5,470.35 600.27,474.98 600,478.1C599.73,481.22 598.13,484.85 596.6,487.5C595.07,490.15 591.77,492.92 590.8,494"/>
<path class="n" d="M363,442C362.77,443.33 361.67,447.33 361.6,450C361.53,452.67 361.87,455.17 362.6,458C363.33,460.83 364.6,464 366,467C367.4,470 370.17,474.5 371,476"/>
<path class="n" d="M505.8,442C506.03,443.33 507.13,447.33 507.2,450C507.27,452.67 506.93,455.17 506.2,458C505.47,460.83 504.2,464 502.8,467C501.4,470 498.63,474.5 497.8,476"/>
<path class="k" d="M362,476.5C362.57,477.52 363.8,480.92 365.4,482.6C367,484.28 369.17,485.67 371.6,486.6C374.03,487.53 378.6,487.93 380,488.2"/>
<path class="k" d="M506.8,476.5C506.23,477.52 505,480.92 503.4,482.6C501.8,484.28 499.63,485.67 497.2,486.6C494.77,487.53 490.2,487.93 488.8,488.2"/>
<path class="n" d="M367,476.5C367.5,477.42 368.5,480.48 370,482C371.5,483.52 375,485 376,485.6"/>
<path class="n" d="M501.8,476.5C501.3,477.42 500.3,480.48 498.8,482C497.3,483.52 493.8,485 492.8,485.6"/>
<path class="n" d="M371.6,425C370.6,427.5 366.97,435.67 365.6,440C364.23,444.33 363.6,446.83 363.4,451C363.2,455.17 363.3,460.67 364.4,465C365.5,469.33 369.07,475 370,477"/>
<path class="n" d="M497.2,425C498.2,427.5 501.83,435.67 503.2,440C504.57,444.33 505.2,446.83 505.4,451C505.6,455.17 505.5,460.67 504.4,465C503.3,469.33 499.73,475 498.8,477"/>
<path d="M417.01,389.13A15.24,15.24 0 0 0 426.14,382.02A9.52,9.52 0 0 1 442.66,382.02A15.24,15.24 0 0 0 451.79,389.13A64.75,64.75 0 0 1 496.77,434.11A15.24,15.24 0 0 0 503.88,443.24A9.52,9.52 0 0 1 503.88,459.76A15.24,15.24 0 0 0 496.77,468.89A64.75,64.75 0 0 1 451.79,513.87A15.24,15.24 0 0 0 442.66,520.98A9.52,9.52 0 0 1 426.14,520.98A15.24,15.24 0 0 0 417.01,513.87A64.75,64.75 0 0 1 372.03,468.89A15.24,15.24 0 0 0 364.92,459.76A9.52,9.52 0 0 1 364.92,443.24A15.24,15.24 0 0 0 372.03,434.11A64.75,64.75 0 0 1 417.01,389.13Z" fill="#fff" stroke="none"/>
<path class="k" d="M417.01,389.13A15.24,15.24 0 0 0 426.14,382.02A9.52,9.52 0 0 1 442.66,382.02A15.24,15.24 0 0 0 451.79,389.13A64.75,64.75 0 0 1 496.77,434.11A15.24,15.24 0 0 0 503.88,443.24A9.52,9.52 0 0 1 503.88,459.76A15.24,15.24 0 0 0 496.77,468.89A64.75,64.75 0 0 1 451.79,513.87A15.24,15.24 0 0 0 442.66,520.98A9.52,9.52 0 0 1 426.14,520.98A15.24,15.24 0 0 0 417.01,513.87A64.75,64.75 0 0 1 372.03,468.89A15.24,15.24 0 0 0 364.92,459.76A9.52,9.52 0 0 1 364.92,443.24A15.24,15.24 0 0 0 372.03,434.11A64.75,64.75 0 0 1 417.01,389.13Z"/>
<circle class="k" cx="434.4" cy="386.75" r="3.8" style="stroke-width:1.1"/>
<circle class="k" cx="434.4" cy="516.25" r="3.8" style="stroke-width:1.1"/>
<circle class="k" cx="369.65" cy="451.5" r="3.8" style="stroke-width:1.1"/>
<circle class="k" cx="499.15" cy="451.5" r="3.8" style="stroke-width:1.1"/>
<circle class="k" cx="434.4" cy="451.5" r="52.7"/>
<circle class="k" cx="434.4" cy="451.5" r="49.8" style="stroke-width:0.9"/>
<circle class="n" cx="434.4" cy="451.5" r="37.8"/>
<path class="k" d="M399.4,454C399.5,453.33 399.57,451.1 400,450C400.43,448.9 401,448.17 402,447.4C403,446.63 404.5,446 406,445.4C407.5,444.8 409.73,444.43 411,443.8C412.27,443.17 412.7,442.17 413.6,441.6C414.5,441.03 414.83,440.97 416.4,440.4C417.97,439.83 420,438.63 423,438.2C426,437.77 430.6,437.8 434.4,437.8C438.2,437.8 442.8,437.77 445.8,438.2C448.8,438.63 450.83,439.83 452.4,440.4C453.97,440.97 454.3,441.03 455.2,441.6C456.1,442.17 456.53,443.17 457.8,443.8C459.07,444.43 461.3,444.8 462.8,445.4C464.3,446 465.8,446.63 466.8,447.4C467.8,448.17 468.37,448.9 468.8,450C469.23,451.1 469.3,453.33 469.4,454"/>
<path class="k" d="M399.4,454C399.5,455 399.47,458.17 400,460C400.53,461.83 401.43,463.67 402.6,465C403.77,466.33 405.27,467.35 407,468C408.73,468.65 411,468.8 413,468.9C415,469 417,468.82 419,468.6C421,468.38 423.23,468.03 425,467.6C426.77,467.17 428.37,466.5 429.6,466C430.83,465.5 431.6,465 432.4,464.6C433.2,464.2 433.73,463.6 434.4,463.6C435.07,463.6 435.6,464.2 436.4,464.6C437.2,465 437.97,465.5 439.2,466C440.43,466.5 442.03,467.17 443.8,467.6C445.57,468.03 447.8,468.38 449.8,468.6C451.8,468.82 453.8,469 455.8,468.9C457.8,468.8 460.07,468.65 461.8,468C463.53,467.35 465.03,466.33 466.2,465C467.37,463.67 468.27,461.83 468.8,460C469.33,458.17 469.3,455 469.4,454"/>
<path class="k" style="stroke-width:0.9" d="M404,467C405,467.5 407.5,469.17 410,470C412.5,470.83 416.17,471.53 419,472C421.83,472.47 424.43,472.63 427,472.8C429.57,472.97 431.93,473 434.4,473C436.87,473 439.23,472.97 441.8,472.8C444.37,472.63 446.97,472.47 449.8,472C452.63,471.53 456.3,470.83 458.8,470C461.3,469.17 463.8,467.5 464.8,467"/>
<path class="n" d="M402,463C402.67,464 404,467.23 406,469C408,470.77 411,472.53 414,473.6C417,474.67 420.6,475.03 424,475.4C427.4,475.77 430.93,475.8 434.4,475.8C437.87,475.8 441.4,475.77 444.8,475.4C448.2,475.03 451.8,474.67 454.8,473.6C457.8,472.53 460.8,470.77 462.8,469C464.8,467.23 466.13,464 466.8,463"/>
<path class="n" d="M414,438.5C415,437.52 417.83,434.25 420,432.6C422.17,430.95 424.6,429.5 427,428.6C429.4,427.7 431.93,427.2 434.4,427.2C436.87,427.2 439.4,427.7 441.8,428.6C444.2,429.5 446.63,430.95 448.8,432.6C450.97,434.25 453.8,437.52 454.8,438.5"/>
<path class="n" d="M410.6,443.6C411.5,442.6 413.77,439.2 416,437.6C418.23,436 420.93,434.77 424,434C427.07,433.23 430.93,433 434.4,433C437.87,433 441.73,433.23 444.8,434C447.87,434.77 450.57,436 452.8,437.6C455.03,439.2 457.3,442.6 458.2,443.6"/>
<path class="n" d="M415.4,443C416,444 418.33,446.83 419,449C419.67,451.17 419.83,453.67 419.4,456C418.97,458.33 417.73,461 416.4,463C415.07,465 412.23,467.17 411.4,468"/>
<path class="n" d="M400.4,458C400.97,458.6 402.97,460.1 403.8,461.6C404.63,463.1 405.13,466.1 405.4,467"/>
<path class="n" d="M453.4,443C452.8,444 450.47,446.83 449.8,449C449.13,451.17 448.97,453.67 449.4,456C449.83,458.33 451.07,461 452.4,463C453.73,465 456.57,467.17 457.4,468"/>
<path class="n" d="M468.4,458C467.83,458.6 465.83,460.1 465,461.6C464.17,463.1 463.67,466.1 463.4,467"/>
<ellipse class="n" cx="434.4" cy="456.5" rx="3.4" ry="18.6"/>
<path class="k" d="M434.4,463.6V474"/>
<path class="d" d="M432,456.4H436.8M432,457.8H436.8M431.6,463.6H437.2"/>
<path class="c" d="M375,451.5H494"/>
<path class="d" d="M518,389L368.5,500.3"/>
<path d="M486.3,412.8L489.72,408.19L491.7,410.84Z" fill="#000"/>
<path d="M382.5,490.2L379.08,494.81L377.1,492.16Z" fill="#000"/>
<g transform="translate(501.2,392.2) rotate(-36.7) translate(0,3.48) scale(1.03,0.87)" fill="none" stroke="#1a1a1a" stroke-width="0.81" stroke-linecap="round" stroke-linejoin="round"><path transform="translate(-15.15,-8)" d="M3.7,0.9A3.6,3.6 0 1 1 3.69,0.9ZM0.2,8.9L7.2,-0.1"/><path transform="translate(-2.85,-8)" d="M1,1.6L2.6,0V8M0.9,8H4.3"/><path transform="translate(3.55,-8)" d="M0,0H5L1.8,8"/><path transform="translate(10.15,-8)" d="M1.3,0H3.7Q5,0 5,1.3V6.7Q5,8 3.7,8H1.3Q0,8 0,6.7V1.3Q0,0 1.3,0Z"/></g>
<path class="d" d="M402.7,539.3L422.5,518.2"/><path d="M422.5,518.2L419.94,523.34L417.53,521.08Z" fill="#000"/>
<g transform="translate(403.7,529) rotate(-47) translate(0,3.48) scale(1.03,0.87)" fill="none" stroke="#1a1a1a" stroke-width="0.81" stroke-linecap="round" stroke-linejoin="round"><path transform="translate(-9.1,-8)" d="M0,8V0H3.7Q5,0 5,1.3V2.7Q5,4 3.7,4H0M2.6,4L5,8"/><path transform="translate(-2.5,-8)" d="M0,1.4Q0,0 1.4,0H3.6Q5,0 5,1.4V2.6Q5,3.8 3.7,4.1L1.3,4.7Q0,5 0,6.3V8H5"/><path transform="translate(4.1,-8)" d="M1.3,0H3.7Q5,0 5,1.3V6.7Q5,8 3.7,8H1.3Q0,8 0,6.7V1.3Q0,0 1.3,0Z"/></g>
<path class="d" d="M413.9,565.5L430.2,525.6"/><path d="M430.2,525.6L429.65,531.32L426.59,530.07Z" fill="#000"/>
<g transform="translate(413.6,547.6) rotate(-67.8) translate(0,3.48) scale(1.03,0.87)" fill="none" stroke="#1a1a1a" stroke-width="0.81" stroke-linecap="round" stroke-linejoin="round"><path transform="translate(-15.3,-8)" d="M0,8V0H3.7Q5,0 5,1.3V2.7Q5,4 3.7,4H0M2.6,4L5,8"/><path transform="translate(-8.7,-8)" d="M1,1.6L2.6,0V8M0.9,8H4.3"/><path transform="translate(-2.3,-8)" d="M0,1.4Q0,0 1.4,0H3.6Q5,0 5,1.4V2.6Q5,3.8 3.7,4.1L1.3,4.7Q0,5 0,6.3V8H5"/><path transform="translate(4.3,-8)" d="M2.1,7.1H2.9V8H2.1Z" fill="#1a1a1a"/><path transform="translate(10.3,-8)" d="M4.8,0H0.3V3.4H3.7Q5,3.4 5,4.7V6.7Q5,8 3.7,8H1.3Q0,8 0,6.7"/></g>
<path class="d" d="M468.4,553.6L438.8,520.4"/><path d="M438.8,520.4L443.69,523.41L441.23,525.6Z" fill="#000"/>
<g transform="translate(466.4,539.6) rotate(48.3) translate(0,3.48) scale(1.03,0.87)" fill="none" stroke="#1a1a1a" stroke-width="0.81" stroke-linecap="round" stroke-linejoin="round"><path transform="translate(-11.85,-8)" d="M3.7,0.9A3.6,3.6 0 1 1 3.69,0.9ZM0.2,8.9L7.2,-0.1"/><path transform="translate(0.45,-8)" d="M1,1.6L2.6,0V8M0.9,8H4.3"/><path transform="translate(6.85,-8)" d="M1.3,0H3.7Q5,0 5,1.3V6.7Q5,8 3.7,8H1.3Q0,8 0,6.7V1.3Q0,0 1.3,0Z"/></g>
<path class="d" d="M322,407L322,421"/>
<path d="M322,421L320.35,415.5L323.65,415.5Z" fill="#000"/>
<path class="d" d="M322,430L322,444"/>
<path d="M322,430L323.65,435.5L320.35,435.5Z" fill="#000"/>
<g transform="translate(315,410) rotate(90) translate(0,3.48) scale(1.03,0.87)" fill="none" stroke="#1a1a1a" stroke-width="0.81" stroke-linecap="round" stroke-linejoin="round"><path transform="translate(-2.5,-8)" d="M1.4,0H3.6Q4.8,0 4.8,1.2V2.6Q4.8,3.8 3.6,3.8H1.4Q0.2,3.8 0.2,2.6V1.2Q0.2,0 1.4,0ZM1.4,3.8Q0,3.8 0,5.1V6.7Q0,8 1.3,8H3.7Q5,8 5,6.7V5.1Q5,3.8 3.6,3.8"/></g>
<path class="k" d="M645,360C643.83,361.33 640.33,365.33 638,368C635.67,370.67 633,373 631,376C629,379 627.27,382.67 626,386C624.73,389.33 623.92,393 623.4,396C622.88,399 622.87,401.33 622.9,404C622.93,406.67 623.08,409.22 623.6,412C624.12,414.78 624.8,417.62 626,420.7C627.2,423.78 628.78,427.35 630.8,430.5C632.82,433.65 635.05,436.15 638.1,439.6C641.15,443.05 645.43,447.13 649.1,451.2C652.77,455.27 656.45,459.63 660.1,464C663.75,468.37 667.52,473.73 671,477.4C674.48,481.07 677.67,483.4 681,486C684.33,488.6 687.67,490.83 691,493C694.33,495.17 697.5,496.93 701,499C704.5,501.07 709.23,503.73 712,505.4C714.77,507.07 716.27,507.9 717.6,509C718.93,510.1 719.6,511.5 720,512"/>
<path class="k" d="M651.4,397C651.22,398.5 650.07,403.07 650.3,406C650.53,408.93 651.38,411.75 652.8,414.6C654.22,417.45 656.17,419.85 658.8,423.1C661.43,426.35 664.93,429.93 668.6,434.1C672.27,438.27 676.73,443.83 680.8,448.1C684.87,452.37 688.95,456.35 693,459.7C697.05,463.05 701.87,466.07 705.1,468.2C708.33,470.33 711.18,471.78 712.4,472.5"/>
<path class="k" d="M692,385C691.45,387.5 689.35,395.88 688.7,400C688.05,404.12 688,406.25 688.1,409.7C688.2,413.15 688.48,416.63 689.3,420.7C690.12,424.77 691.38,429.43 693,434.1C694.62,438.77 696.98,444.43 699,448.7C701.02,452.97 702.87,455.73 705.1,459.7C707.33,463.67 711.18,470.37 712.4,472.5"/>
<path class="k" d="M714.6,405C714.85,406.2 715.45,408.97 716.1,412.2C716.75,415.43 716.98,420.13 718.5,424.4C720.02,428.67 722.78,433.2 725.2,437.8C727.62,442.4 730.03,446.63 733,452C735.97,457.37 739.67,464 743,470C746.33,476 751.33,485 753,488"/>
<path class="k" d="M772,401C770.67,403.83 766,412.5 764,418C762,423.5 761,428.33 760,434C759,439.67 758.5,446 758,452C757.5,458 757.83,464 757,470C756.17,476 753.67,485 753,488"/>
<path class="k" d="M790.4,418C790.28,419.17 790.32,421.4 789.7,425C789.08,428.6 787.47,434.52 786.7,439.6C785.93,444.68 785.5,449.82 785.1,455.5C784.7,461.18 784.7,468.95 784.3,473.7C783.9,478.45 782.7,481.67 782.7,484C782.7,486.33 783.13,486.93 784.3,487.7C785.47,488.47 787.17,488.8 789.7,488.6C792.23,488.4 796.25,487.57 799.5,486.5C802.75,485.43 806.37,483.92 809.2,482.2C812.03,480.48 814.87,478.22 816.5,476.2C818.13,474.18 818.68,472.55 819,470.1C819.32,467.65 818.4,464.95 818.4,461.5C818.4,458.05 818.6,453.45 819,449.4C819.4,445.35 820.1,441.27 820.8,437.2C821.5,433.13 822,429.03 823.2,425C824.4,420.97 827.2,415 828,413"/>
<path class="k" d="M848.6,432C848.43,433.47 847.97,436.88 847.6,440.8C847.23,444.72 846.5,451.23 846.4,455.5C846.3,459.77 847,463.37 847,466.4C847,469.43 847.02,470.85 846.4,473.7C845.78,476.55 844.83,480.05 843.3,483.5C841.77,486.95 839.63,491.15 837.2,494.4C834.77,497.65 831.9,500.4 828.7,503C825.5,505.6 821.78,508.07 818,510C814.22,511.93 809.5,513.47 806,514.6C802.5,515.73 798.5,516.43 797,516.8"/>
<path class="k" d="M720.1,510.7C721.22,509.78 724.07,506.93 726.8,505.2C729.53,503.47 732.85,501.68 736.5,500.3C740.15,498.92 744.63,497.55 748.7,496.9C752.77,496.25 756.83,496.13 760.9,496.4C764.97,496.67 769.45,497.43 773.1,498.5C776.75,499.57 779.97,500.87 782.8,502.8C785.63,504.73 787.87,507.67 790.1,510.1C792.33,512.53 794.88,515.58 796.2,517.4C797.52,519.22 797.7,520.4 798,521"/>
<path class="k" d="M719.5,511.9C719.1,513.22 718.02,517.07 717.1,519.8C716.18,522.53 714.52,526.88 714,528.3"/>
<path class="k" d="M707.3,528.9C708.12,528.7 709.35,528.4 712.2,527.7C715.05,527 720.35,525.72 724.4,524.7C728.45,523.68 732.45,522.45 736.5,521.6C740.55,520.75 744.63,520.1 748.7,519.6C752.77,519.1 756.83,518.82 760.9,518.6C764.97,518.38 769.03,518.47 773.1,518.3C777.17,518.13 782.05,517.55 785.3,517.6C788.55,517.65 790.78,517.83 792.6,518.6C794.42,519.37 794.78,520.98 796.2,522.2C797.62,523.42 799.27,524.07 801.1,525.9C802.93,527.73 805.72,530.85 807.2,533.2C808.68,535.55 809.53,538.87 810,540"/>
<path class="k" d="M706.6,533.9C706.38,534.33 705.63,534.95 705.3,536.5C704.97,538.05 704.38,540.98 704.6,543.2C704.82,545.42 705.38,547.6 706.6,549.8C707.82,552 710.13,554.63 711.9,556.4C713.67,558.17 715.87,559.07 717.2,560.4C718.53,561.73 718.35,563.4 719.9,564.4C721.45,565.4 723.18,566.3 726.5,566.4C729.82,566.5 735.38,565.45 739.8,565C744.22,564.55 748.58,564.25 753,563.7C757.42,563.15 761.87,562.47 766.3,561.7C770.73,560.93 775.18,560.08 779.6,559.1C784.02,558.12 788.83,556.47 792.8,555.8C796.77,555.13 801.63,555.22 803.4,555.1"/>
<path class="k" d="M706.6,529.9C706.53,530.25 706.2,531.33 706.2,532C706.2,532.67 705.2,534.03 706.6,533.9C708,533.77 711.28,532.2 714.6,531.2C717.92,530.2 722.3,528.95 726.5,527.9C730.7,526.85 735.38,525.67 739.8,524.9C744.22,524.13 748.58,523.68 753,523.3C757.42,522.92 761.87,522.72 766.3,522.6C770.73,522.48 775.18,522.48 779.6,522.6C784.02,522.72 790.15,522.53 792.8,523.3C795.45,524.07 793.95,526.1 795.5,527.2C797.05,528.3 800.33,528.35 802.1,529.9C803.87,531.45 805.43,534.07 806.1,536.5C806.77,538.93 806.32,542.5 806.1,544.5C805.88,546.5 805.02,547.83 804.8,548.5"/>
<path class="k" d="M810,540L808.8,536.5"/>
<path class="k" d="M808.8,536.5C808.68,537.62 808.55,541.2 808.1,543.2C807.65,545.2 806.32,546.97 806.1,548.5C805.88,550.03 807.25,551.18 806.8,552.4C806.35,553.62 803.97,555.23 803.4,555.8"/>
<ellipse class="k" cx="756.7" cy="544.1" rx="42.3" ry="16.4" transform="rotate(-3.1 756.7 544.1)"/>
<path class="n" d="M717.2,546.6C718.67,547.17 722.2,549 726,550C729.8,551 734.5,552.27 740,552.6C745.5,552.93 752.5,552.87 759,552C765.5,551.13 773.4,549.17 779,547.4C784.6,545.63 789.5,542.87 792.6,541.4C795.7,539.93 796.77,539.07 797.6,538.6"/>
<path class="n" d="M721,552.6C723.17,553.23 729.83,555.53 734,556.4C738.17,557.27 741.67,557.6 746,557.8C750.33,558 754.4,558.17 760,557.6C765.6,557.03 773.77,556.13 779.6,554.4C785.43,552.67 792.43,548.4 795,547.2"/>
<ellipse class="k" cx="714.3" cy="536.1" rx="3" ry="1.6" transform="rotate(-4 714.3 536.1)" style="stroke-width:1"/>
<ellipse class="k" cx="786.9" cy="526.2" rx="3" ry="1.6" transform="rotate(-4 786.9 526.2)" style="stroke-width:1"/>
<ellipse class="k" cx="799.5" cy="553.4" rx="3" ry="1.6" transform="rotate(-4 799.5 553.4)" style="stroke-width:1"/>
<ellipse class="k" cx="727.2" cy="563.3" rx="3" ry="1.6" transform="rotate(-4 727.2 563.3)" style="stroke-width:1"/>
<path class="n" d="M716.6,528L716.8,533"/>
<path class="n" d="M724.4,525.6L724.6,530"/>
<path class="n" d="M773.8,518.6L774.2,522.6"/>
<path class="n" d="M783.4,518L783.8,522"/>
<path class="n" d="M795.6,523.6L796.2,528"/>
<path class="n" d="M624.7,412.2C625.58,411.6 627.77,409.52 630,408.6C632.23,407.68 634.72,407.02 638.1,406.7C641.48,406.38 648.27,406.7 650.3,406.7"/>
<path class="n" d="M626.6,418.3C627.33,417.58 629.08,415.22 631,414C632.92,412.78 634.88,411.92 638.1,411C641.32,410.08 648.27,408.92 650.3,408.5"/>
<path class="n" d="M638.8,440.2C639.1,438.78 639.28,434.33 640.6,431.7C641.92,429.07 644.07,426.23 646.7,424.4C649.33,422.57 654.78,421.32 656.4,420.7"/>
<path class="n" d="M661.3,464.6C663.12,463.37 668.85,459.85 672.2,457.2C675.55,454.55 679.87,450.12 681.4,448.7"/>
<path class="n" d="M690.5,423.8C692.08,423.08 695.88,420.63 700,419.5C704.12,418.37 712.67,417.42 715.2,417"/>
<path class="n" d="M693,432.9C694.17,432.28 696,430.52 700,429.2C704,427.88 714.17,425.7 717,425"/>
<path class="n" d="M704.3,457.2C705.62,455.58 709.92,449.67 712.2,447.5C714.48,445.33 715.97,445.12 718,444.2C720.03,443.28 723.33,442.37 724.4,442"/>
<path class="n" d="M728,476.7C729,476.02 731.77,473.72 734,472.6C736.23,471.48 740.17,470.43 741.4,470"/>
<path class="n" d="M712.8,473.1C713.17,472.42 714.08,470.02 715,469C715.92,467.98 717.2,467.27 718.3,467C719.4,466.73 720.58,467 721.6,467.4C722.62,467.8 723.23,467.85 724.4,469.4C725.57,470.95 727.9,475.48 728.6,476.7"/>
<path class="n" d="M712.8,473.5C712.9,475.13 713.92,480.25 713.4,483.3C712.88,486.35 711.53,489.47 709.7,491.8C707.87,494.13 703.62,496.38 702.4,497.3"/>
<path class="n" d="M728,476C729.22,478.02 732.97,484.55 735.3,488.1C737.63,491.65 740.88,495.77 742,497.3"/>
<path class="n" d="M725.6,478.4C727,480.23 731.57,486.15 734,489.4C736.43,492.65 739.17,496.48 740.2,497.9"/>
<path class="n" d="M718.3,506.4C719.15,505.5 721.37,502.62 723.4,501C725.43,499.38 727.3,497.93 730.5,496.7C733.7,495.47 738.75,493.92 742.6,493.6C746.45,493.28 751.77,494.6 753.6,494.8"/>
<path class="n" d="M723.1,501.5L726.8,507.6"/>
<path class="n" d="M752.4,487.5C752.67,487.08 753.4,485.5 754,485C754.6,484.5 755.33,484.43 756,484.5C756.67,484.57 757.48,484.9 758,485.4C758.52,485.9 758.62,485.93 759.1,487.5C759.58,489.07 760.6,493.58 760.9,494.8"/>
<path class="n" d="M752.4,487.5L755.4,494.8"/>
<path class="n" d="M762.1,431.9C763.93,431.42 770.12,429.22 773.1,429C776.08,428.78 777.57,429.55 780,430.6C782.43,431.65 786.42,434.52 787.7,435.3"/>
<path class="n" d="M760.3,439.6C762.43,439.08 769.82,436.67 773.1,436.5C776.38,436.33 777.77,437.48 780,438.6C782.23,439.72 785.42,442.43 786.5,443.2"/>
<path class="n" d="M758.2,458.5C759,457.82 760.93,455.42 763,454.4C765.07,453.38 768.1,452.47 770.6,452.4C773.1,452.33 775.77,452.98 778,454C780.23,455.02 783,457.75 784,458.5"/>
<path class="n" d="M756.6,478.4C757.17,478 758.47,476.5 760,476C761.53,475.5 763.97,475.37 765.8,475.4C767.63,475.43 769.38,475.7 771,476.2C772.62,476.7 773.83,477.02 775.5,478.4C777.17,479.78 780.08,483.48 781,484.5"/>
<path class="n" d="M757.4,470C758.5,469.6 761.57,468.1 764,467.6C766.43,467.1 769.5,466.87 772,467C774.5,467.13 776.9,467.63 779,468.4C781.1,469.17 783.67,471.07 784.6,471.6"/>
<path class="n" d="M782.8,486.3L776.1,497.9"/>
<path class="n" d="M785.3,489L779.2,498.8"/>
<path class="n" d="M795,489.4C795.67,489.93 797.98,491.38 799,492.6C800.02,493.82 800.5,495.2 801.1,496.7C801.7,498.2 802.4,499.98 802.6,501.6C802.8,503.22 802.63,504.83 802.3,506.4C801.97,507.97 801.42,509.58 800.6,511C799.78,512.42 797.93,514.25 797.4,514.9"/>
<path class="n" d="M819.6,447.5C820.5,447.18 822.87,446 825,445.6C827.13,445.2 830.23,445.07 832.4,445.1C834.57,445.13 836.18,445.4 838,445.8C839.82,446.2 841.9,446.6 843.3,447.5C844.7,448.4 845.88,450.58 846.4,451.2"/>
<path class="n" d="M819,451.2C820,450.8 822.77,449.32 825,448.8C827.23,448.28 830.4,448.13 832.4,448.1C834.4,448.07 835.38,448.28 837,448.6C838.62,448.92 840.63,449.17 842.1,450C843.57,450.83 845.18,453 845.8,453.6"/>
<path class="n" d="M819,462.8C819.67,462.27 821.38,460.42 823,459.6C824.62,458.78 827.03,458.23 828.7,457.9C830.37,457.57 831.37,457.5 833,457.6C834.63,457.7 836.9,458 838.5,458.5C840.1,459 841.38,459.68 842.6,460.6C843.82,461.52 845.27,463.43 845.8,464"/>
<path class="n" d="M817.8,476.2C818.5,476.27 820.38,476.2 822,476.6C823.62,477 826,477.77 827.5,478.6C829,479.43 829.98,480.38 831,481.6C832.02,482.82 832.87,484.5 833.6,485.9C834.33,487.3 835,488.58 835.4,490C835.8,491.42 835.9,493.67 836,494.4"/>
<path class="n" d="M780,491.6C780.67,491.57 782.58,491.63 784,491.4C785.42,491.17 787,490.3 788.5,490.2C790,490.1 791.57,490.3 793,490.8C794.43,491.3 795.93,492.23 797.1,493.2C798.27,494.17 799.2,495.38 800,496.6C800.8,497.82 801.58,499.85 801.9,500.5"/>
<path class="n" d="M641.8,364.1C642,365.52 641.98,369.75 643,372.6C644.02,375.45 647.08,379.77 647.9,381.2"/>
<path class="n" d="M728,505.6C729.42,504.97 733.05,502.83 736.5,501.8C739.95,500.77 744.63,499.87 748.7,499.4C752.77,498.93 756.83,498.83 760.9,499C764.97,499.17 769.45,499.67 773.1,500.4C776.75,501.13 781.18,502.9 782.8,503.4"/>
<path d="M646.5,346.3C646.8,344.82 646.95,345.28 647.4,344.3C647.85,343.32 648.08,341.55 649.2,340.4C650.32,339.25 652.37,337.8 654.1,337.4C655.83,337 658.07,337.28 659.6,338C661.13,338.72 662.28,340.18 663.3,341.7C664.32,343.22 664.48,344.77 665.7,347.1C666.92,349.43 668.77,353.25 670.6,355.7C672.43,358.15 674.47,360.15 676.7,361.8C678.93,363.45 681.57,364.8 684,365.6C686.43,366.4 689.07,366.73 691.3,366.6C693.53,366.47 695.68,365.82 697.4,364.8C699.12,363.78 700.48,362.12 701.6,360.5C702.72,358.88 702.98,356.72 704.1,355.1C705.22,353.48 706.78,351.72 708.3,350.8C709.82,349.88 711.75,349.57 713.2,349.6C714.65,349.63 715.77,350.05 717,351C718.23,351.95 719.38,353.47 720.6,355.3C721.82,357.13 722.67,359.67 724.3,362C725.93,364.33 727.97,367.07 730.4,369.3C732.83,371.53 735.87,373.87 738.9,375.4C741.93,376.93 744.95,377.48 748.6,378.5C752.25,379.52 757.13,380.75 760.8,381.5C764.47,382.25 767.95,383 770.6,383C773.25,383 774.98,382.37 776.7,381.5C778.42,380.63 779.78,379.42 780.9,377.8C782.02,376.18 782.38,373.53 783.4,371.8C784.42,370.07 785.6,368.43 787,367.4C788.4,366.37 790.18,365.7 791.8,365.6C793.42,365.5 795.27,365.9 796.7,366.8C798.13,367.7 799.18,369.07 800.4,371C801.62,372.93 802.58,375.95 804,378.4C805.42,380.85 806.87,383.47 808.9,385.7C810.93,387.93 813.77,390.38 816.2,391.8C818.63,393.22 821.07,393.9 823.5,394.2C825.93,394.5 828.67,394.22 830.8,393.6C832.93,392.98 834.87,391.82 836.3,390.5C837.73,389.18 838.48,387.22 839.4,385.7C840.32,384.18 840.8,382.62 841.8,381.4C842.8,380.18 843.98,379.12 845.4,378.4C846.82,377.68 848.67,377 850.3,377.1C851.93,377.2 853.88,377.98 855.2,379C856.52,380.02 857.18,381.07 858.2,383.2C859.22,385.33 860.18,388.55 861.3,391.8C862.42,395.05 863.88,399.67 864.9,402.7C865.92,405.73 867.08,407.77 867.4,410C867.72,412.23 867.22,413.67 866.8,416.1C866.38,418.53 865.62,421.75 864.9,424.6C864.18,427.45 863.3,430.85 862.5,433.2C861.7,435.55 861.07,437.25 860.1,438.7C859.13,440.15 857.93,441.27 856.7,441.9C855.47,442.53 853.93,442.77 852.7,442.5C851.47,442.23 850.1,441.45 849.3,440.3C848.5,439.15 848.75,437.6 847.9,435.6C847.05,433.6 845.62,430.73 844.2,428.3C842.78,425.87 841.22,423.23 839.4,421C837.58,418.77 835.53,416.53 833.3,414.9C831.07,413.27 828.45,411.92 826,411.2C823.55,410.48 820.83,410.28 818.6,410.6C816.37,410.92 814.42,411.78 812.6,413.1C810.78,414.42 809.03,416.58 807.7,418.5C806.37,420.42 805.82,422.77 804.6,424.6C803.38,426.43 801.92,428.48 800.4,429.5C798.88,430.52 797.13,431 795.5,430.7C793.87,430.4 792.02,429.12 790.6,427.7C789.18,426.28 787.9,424.22 787,422.2C786.1,420.18 786.32,417.72 785.2,415.6C784.08,413.48 782.33,411.53 780.3,409.5C778.27,407.47 775.63,405.12 773,403.4C770.37,401.68 767.55,400.37 764.5,399.2C761.45,398.03 757.95,397.22 754.7,396.4C751.45,395.58 747.83,394.58 745,394.3C742.17,394.02 739.93,394.2 737.7,394.7C735.47,395.2 733.43,396.05 731.6,397.3C729.77,398.55 728.12,400.37 726.7,402.2C725.28,404.03 724.52,406.68 723.1,408.3C721.68,409.92 719.8,411.13 718.2,411.9C716.6,412.67 714.82,413.07 713.5,412.9C712.18,412.73 711.17,411.83 710.3,410.9C709.43,409.97 709.43,409.2 708.3,407.3C707.17,405.4 705.32,402.22 703.5,399.5C701.68,396.78 699.43,393.33 697.4,391C695.37,388.67 693.33,386.82 691.3,385.5C689.27,384.18 687.33,383.5 685.2,383.1C683.07,382.7 680.53,382.6 678.5,383.1C676.47,383.6 674.53,384.78 673,386.1C671.47,387.42 670.32,389.17 669.3,391C668.28,392.83 667.9,395.48 666.9,397.1C665.9,398.72 664.72,400 663.3,400.7C661.88,401.4 659.93,401.8 658.4,401.3C656.87,400.8 655.22,399.22 654.1,397.7C652.98,396.18 652.62,394.73 651.7,392.2C650.78,389.67 649.62,385.95 648.6,382.5C647.58,379.05 646.37,374.72 645.6,371.5C644.83,368.28 644,366.25 644,363.2C644,360.15 645.18,356.02 645.6,353.2C646.02,350.38 646.2,347.78 646.5,346.3Z" fill="#fff" stroke="none"/>
<path class="k" style="stroke-width:1.1" d="M646.5,346.3C646.8,344.82 646.95,345.28 647.4,344.3C647.85,343.32 648.08,341.55 649.2,340.4C650.32,339.25 652.37,337.8 654.1,337.4C655.83,337 658.07,337.28 659.6,338C661.13,338.72 662.28,340.18 663.3,341.7C664.32,343.22 664.48,344.77 665.7,347.1C666.92,349.43 668.77,353.25 670.6,355.7C672.43,358.15 674.47,360.15 676.7,361.8C678.93,363.45 681.57,364.8 684,365.6C686.43,366.4 689.07,366.73 691.3,366.6C693.53,366.47 695.68,365.82 697.4,364.8C699.12,363.78 700.48,362.12 701.6,360.5C702.72,358.88 702.98,356.72 704.1,355.1C705.22,353.48 706.78,351.72 708.3,350.8C709.82,349.88 711.75,349.57 713.2,349.6C714.65,349.63 715.77,350.05 717,351C718.23,351.95 719.38,353.47 720.6,355.3C721.82,357.13 722.67,359.67 724.3,362C725.93,364.33 727.97,367.07 730.4,369.3C732.83,371.53 735.87,373.87 738.9,375.4C741.93,376.93 744.95,377.48 748.6,378.5C752.25,379.52 757.13,380.75 760.8,381.5C764.47,382.25 767.95,383 770.6,383C773.25,383 774.98,382.37 776.7,381.5C778.42,380.63 779.78,379.42 780.9,377.8C782.02,376.18 782.38,373.53 783.4,371.8C784.42,370.07 785.6,368.43 787,367.4C788.4,366.37 790.18,365.7 791.8,365.6C793.42,365.5 795.27,365.9 796.7,366.8C798.13,367.7 799.18,369.07 800.4,371C801.62,372.93 802.58,375.95 804,378.4C805.42,380.85 806.87,383.47 808.9,385.7C810.93,387.93 813.77,390.38 816.2,391.8C818.63,393.22 821.07,393.9 823.5,394.2C825.93,394.5 828.67,394.22 830.8,393.6C832.93,392.98 834.87,391.82 836.3,390.5C837.73,389.18 838.48,387.22 839.4,385.7C840.32,384.18 840.8,382.62 841.8,381.4C842.8,380.18 843.98,379.12 845.4,378.4C846.82,377.68 848.67,377 850.3,377.1C851.93,377.2 853.88,377.98 855.2,379C856.52,380.02 857.18,381.07 858.2,383.2C859.22,385.33 860.18,388.55 861.3,391.8C862.42,395.05 863.88,399.67 864.9,402.7C865.92,405.73 867.08,407.77 867.4,410C867.72,412.23 867.22,413.67 866.8,416.1C866.38,418.53 865.62,421.75 864.9,424.6C864.18,427.45 863.3,430.85 862.5,433.2C861.7,435.55 861.07,437.25 860.1,438.7C859.13,440.15 857.93,441.27 856.7,441.9C855.47,442.53 853.93,442.77 852.7,442.5C851.47,442.23 850.1,441.45 849.3,440.3C848.5,439.15 848.75,437.6 847.9,435.6C847.05,433.6 845.62,430.73 844.2,428.3C842.78,425.87 841.22,423.23 839.4,421C837.58,418.77 835.53,416.53 833.3,414.9C831.07,413.27 828.45,411.92 826,411.2C823.55,410.48 820.83,410.28 818.6,410.6C816.37,410.92 814.42,411.78 812.6,413.1C810.78,414.42 809.03,416.58 807.7,418.5C806.37,420.42 805.82,422.77 804.6,424.6C803.38,426.43 801.92,428.48 800.4,429.5C798.88,430.52 797.13,431 795.5,430.7C793.87,430.4 792.02,429.12 790.6,427.7C789.18,426.28 787.9,424.22 787,422.2C786.1,420.18 786.32,417.72 785.2,415.6C784.08,413.48 782.33,411.53 780.3,409.5C778.27,407.47 775.63,405.12 773,403.4C770.37,401.68 767.55,400.37 764.5,399.2C761.45,398.03 757.95,397.22 754.7,396.4C751.45,395.58 747.83,394.58 745,394.3C742.17,394.02 739.93,394.2 737.7,394.7C735.47,395.2 733.43,396.05 731.6,397.3C729.77,398.55 728.12,400.37 726.7,402.2C725.28,404.03 724.52,406.68 723.1,408.3C721.68,409.92 719.8,411.13 718.2,411.9C716.6,412.67 714.82,413.07 713.5,412.9C712.18,412.73 711.17,411.83 710.3,410.9C709.43,409.97 709.43,409.2 708.3,407.3C707.17,405.4 705.32,402.22 703.5,399.5C701.68,396.78 699.43,393.33 697.4,391C695.37,388.67 693.33,386.82 691.3,385.5C689.27,384.18 687.33,383.5 685.2,383.1C683.07,382.7 680.53,382.6 678.5,383.1C676.47,383.6 674.53,384.78 673,386.1C671.47,387.42 670.32,389.17 669.3,391C668.28,392.83 667.9,395.48 666.9,397.1C665.9,398.72 664.72,400 663.3,400.7C661.88,401.4 659.93,401.8 658.4,401.3C656.87,400.8 655.22,399.22 654.1,397.7C652.98,396.18 652.62,394.73 651.7,392.2C650.78,389.67 649.62,385.95 648.6,382.5C647.58,379.05 646.37,374.72 645.6,371.5C644.83,368.28 644,366.25 644,363.2C644,360.15 645.18,356.02 645.6,353.2C646.02,350.38 646.2,347.78 646.5,346.3Z"/>
<path d="M649.4,345C649.7,343.52 649.85,343.98 650.3,343C650.75,342.02 650.98,340.25 652.1,339.1C653.22,337.95 655.27,336.5 657,336.1C658.73,335.7 660.97,335.98 662.5,336.7C664.03,337.42 665.18,338.88 666.2,340.4C667.22,341.92 667.38,343.47 668.6,345.8C669.82,348.13 671.67,351.95 673.5,354.4C675.33,356.85 677.37,358.85 679.6,360.5C681.83,362.15 684.47,363.5 686.9,364.3C689.33,365.1 691.97,365.43 694.2,365.3C696.43,365.17 698.58,364.52 700.3,363.5C702.02,362.48 703.38,360.82 704.5,359.2C705.62,357.58 705.88,355.42 707,353.8C708.12,352.18 709.68,350.42 711.2,349.5C712.72,348.58 714.65,348.27 716.1,348.3C717.55,348.33 718.67,348.75 719.9,349.7C721.13,350.65 722.28,352.17 723.5,354C724.72,355.83 725.57,358.37 727.2,360.7C728.83,363.03 730.87,365.77 733.3,368C735.73,370.23 738.77,372.57 741.8,374.1C744.83,375.63 747.85,376.18 751.5,377.2C755.15,378.22 760.03,379.45 763.7,380.2C767.37,380.95 770.85,381.7 773.5,381.7C776.15,381.7 777.88,381.07 779.6,380.2C781.32,379.33 782.68,378.12 783.8,376.5C784.92,374.88 785.28,372.23 786.3,370.5C787.32,368.77 788.5,367.13 789.9,366.1C791.3,365.07 793.08,364.4 794.7,364.3C796.32,364.2 798.17,364.6 799.6,365.5C801.03,366.4 802.08,367.77 803.3,369.7C804.52,371.63 805.48,374.65 806.9,377.1C808.32,379.55 809.77,382.17 811.8,384.4C813.83,386.63 816.67,389.08 819.1,390.5C821.53,391.92 823.97,392.6 826.4,392.9C828.83,393.2 831.57,392.92 833.7,392.3C835.83,391.68 837.77,390.52 839.2,389.2C840.63,387.88 841.38,385.92 842.3,384.4C843.22,382.88 843.7,381.32 844.7,380.1C845.7,378.88 846.88,377.82 848.3,377.1C849.72,376.38 851.57,375.7 853.2,375.8C854.83,375.9 856.78,376.68 858.1,377.7C859.42,378.72 860.08,379.77 861.1,381.9C862.12,384.03 863.08,387.25 864.2,390.5C865.32,393.75 866.78,398.37 867.8,401.4C868.82,404.43 869.98,406.47 870.3,408.7C870.62,410.93 870.12,412.37 869.7,414.8C869.28,417.23 868.52,420.45 867.8,423.3C867.08,426.15 866.2,429.55 865.4,431.9C864.6,434.25 863.97,435.95 863,437.4C862.03,438.85 860.83,439.97 859.6,440.6C858.37,441.23 856.83,441.47 855.6,441.2C854.37,440.93 853,440.15 852.2,439C851.4,437.85 851.65,436.3 850.8,434.3C849.95,432.3 848.52,429.43 847.1,427C845.68,424.57 844.12,421.93 842.3,419.7C840.48,417.47 838.43,415.23 836.2,413.6C833.97,411.97 831.35,410.62 828.9,409.9C826.45,409.18 823.73,408.98 821.5,409.3C819.27,409.62 817.32,410.48 815.5,411.8C813.68,413.12 811.93,415.28 810.6,417.2C809.27,419.12 808.72,421.47 807.5,423.3C806.28,425.13 804.82,427.18 803.3,428.2C801.78,429.22 800.03,429.7 798.4,429.4C796.77,429.1 794.92,427.82 793.5,426.4C792.08,424.98 790.8,422.92 789.9,420.9C789,418.88 789.22,416.42 788.1,414.3C786.98,412.18 785.23,410.23 783.2,408.2C781.17,406.17 778.53,403.82 775.9,402.1C773.27,400.38 770.45,399.07 767.4,397.9C764.35,396.73 760.85,395.92 757.6,395.1C754.35,394.28 750.73,393.28 747.9,393C745.07,392.72 742.83,392.9 740.6,393.4C738.37,393.9 736.33,394.75 734.5,396C732.67,397.25 731.02,399.07 729.6,400.9C728.18,402.73 727.42,405.38 726,407C724.58,408.62 722.7,409.83 721.1,410.6C719.5,411.37 717.72,411.77 716.4,411.6C715.08,411.43 714.07,410.53 713.2,409.6C712.33,408.67 712.33,407.9 711.2,406C710.07,404.1 708.22,400.92 706.4,398.2C704.58,395.48 702.33,392.03 700.3,389.7C698.27,387.37 696.23,385.52 694.2,384.2C692.17,382.88 690.23,382.2 688.1,381.8C685.97,381.4 683.43,381.3 681.4,381.8C679.37,382.3 677.43,383.48 675.9,384.8C674.37,386.12 673.22,387.87 672.2,389.7C671.18,391.53 670.8,394.18 669.8,395.8C668.8,397.42 667.62,398.7 666.2,399.4C664.78,400.1 662.83,400.5 661.3,400C659.77,399.5 658.12,397.92 657,396.4C655.88,394.88 655.52,393.43 654.6,390.9C653.68,388.37 652.52,384.65 651.5,381.2C650.48,377.75 649.27,373.42 648.5,370.2C647.73,366.98 646.9,364.95 646.9,361.9C646.9,358.85 648.08,354.72 648.5,351.9C648.92,349.08 649.1,346.48 649.4,345Z" fill="#fff" stroke="none"/>
<path class="k" d="M649.4,345C649.7,343.52 649.85,343.98 650.3,343C650.75,342.02 650.98,340.25 652.1,339.1C653.22,337.95 655.27,336.5 657,336.1C658.73,335.7 660.97,335.98 662.5,336.7C664.03,337.42 665.18,338.88 666.2,340.4C667.22,341.92 667.38,343.47 668.6,345.8C669.82,348.13 671.67,351.95 673.5,354.4C675.33,356.85 677.37,358.85 679.6,360.5C681.83,362.15 684.47,363.5 686.9,364.3C689.33,365.1 691.97,365.43 694.2,365.3C696.43,365.17 698.58,364.52 700.3,363.5C702.02,362.48 703.38,360.82 704.5,359.2C705.62,357.58 705.88,355.42 707,353.8C708.12,352.18 709.68,350.42 711.2,349.5C712.72,348.58 714.65,348.27 716.1,348.3C717.55,348.33 718.67,348.75 719.9,349.7C721.13,350.65 722.28,352.17 723.5,354C724.72,355.83 725.57,358.37 727.2,360.7C728.83,363.03 730.87,365.77 733.3,368C735.73,370.23 738.77,372.57 741.8,374.1C744.83,375.63 747.85,376.18 751.5,377.2C755.15,378.22 760.03,379.45 763.7,380.2C767.37,380.95 770.85,381.7 773.5,381.7C776.15,381.7 777.88,381.07 779.6,380.2C781.32,379.33 782.68,378.12 783.8,376.5C784.92,374.88 785.28,372.23 786.3,370.5C787.32,368.77 788.5,367.13 789.9,366.1C791.3,365.07 793.08,364.4 794.7,364.3C796.32,364.2 798.17,364.6 799.6,365.5C801.03,366.4 802.08,367.77 803.3,369.7C804.52,371.63 805.48,374.65 806.9,377.1C808.32,379.55 809.77,382.17 811.8,384.4C813.83,386.63 816.67,389.08 819.1,390.5C821.53,391.92 823.97,392.6 826.4,392.9C828.83,393.2 831.57,392.92 833.7,392.3C835.83,391.68 837.77,390.52 839.2,389.2C840.63,387.88 841.38,385.92 842.3,384.4C843.22,382.88 843.7,381.32 844.7,380.1C845.7,378.88 846.88,377.82 848.3,377.1C849.72,376.38 851.57,375.7 853.2,375.8C854.83,375.9 856.78,376.68 858.1,377.7C859.42,378.72 860.08,379.77 861.1,381.9C862.12,384.03 863.08,387.25 864.2,390.5C865.32,393.75 866.78,398.37 867.8,401.4C868.82,404.43 869.98,406.47 870.3,408.7C870.62,410.93 870.12,412.37 869.7,414.8C869.28,417.23 868.52,420.45 867.8,423.3C867.08,426.15 866.2,429.55 865.4,431.9C864.6,434.25 863.97,435.95 863,437.4C862.03,438.85 860.83,439.97 859.6,440.6C858.37,441.23 856.83,441.47 855.6,441.2C854.37,440.93 853,440.15 852.2,439C851.4,437.85 851.65,436.3 850.8,434.3C849.95,432.3 848.52,429.43 847.1,427C845.68,424.57 844.12,421.93 842.3,419.7C840.48,417.47 838.43,415.23 836.2,413.6C833.97,411.97 831.35,410.62 828.9,409.9C826.45,409.18 823.73,408.98 821.5,409.3C819.27,409.62 817.32,410.48 815.5,411.8C813.68,413.12 811.93,415.28 810.6,417.2C809.27,419.12 808.72,421.47 807.5,423.3C806.28,425.13 804.82,427.18 803.3,428.2C801.78,429.22 800.03,429.7 798.4,429.4C796.77,429.1 794.92,427.82 793.5,426.4C792.08,424.98 790.8,422.92 789.9,420.9C789,418.88 789.22,416.42 788.1,414.3C786.98,412.18 785.23,410.23 783.2,408.2C781.17,406.17 778.53,403.82 775.9,402.1C773.27,400.38 770.45,399.07 767.4,397.9C764.35,396.73 760.85,395.92 757.6,395.1C754.35,394.28 750.73,393.28 747.9,393C745.07,392.72 742.83,392.9 740.6,393.4C738.37,393.9 736.33,394.75 734.5,396C732.67,397.25 731.02,399.07 729.6,400.9C728.18,402.73 727.42,405.38 726,407C724.58,408.62 722.7,409.83 721.1,410.6C719.5,411.37 717.72,411.77 716.4,411.6C715.08,411.43 714.07,410.53 713.2,409.6C712.33,408.67 712.33,407.9 711.2,406C710.07,404.1 708.22,400.92 706.4,398.2C704.58,395.48 702.33,392.03 700.3,389.7C698.27,387.37 696.23,385.52 694.2,384.2C692.17,382.88 690.23,382.2 688.1,381.8C685.97,381.4 683.43,381.3 681.4,381.8C679.37,382.3 677.43,383.48 675.9,384.8C674.37,386.12 673.22,387.87 672.2,389.7C671.18,391.53 670.8,394.18 669.8,395.8C668.8,397.42 667.62,398.7 666.2,399.4C664.78,400.1 662.83,400.5 661.3,400C659.77,399.5 658.12,397.92 657,396.4C655.88,394.88 655.52,393.43 654.6,390.9C653.68,388.37 652.52,384.65 651.5,381.2C650.48,377.75 649.27,373.42 648.5,370.2C647.73,366.98 646.9,364.95 646.9,361.9C646.9,358.85 648.08,354.72 648.5,351.9C648.92,349.08 649.1,346.48 649.4,345Z"/>
<ellipse class="k" cx="659.6" cy="345.6" rx="3.3" ry="4.5" transform="rotate(-28 659.6 345.6)" style="stroke-width:1.1"/>
<path class="k" style="stroke-width:0.9" d="M657.4,343C657.5,343.53 657.67,345.2 658,346.2C658.33,347.2 659.17,348.53 659.4,349"/>
<ellipse class="k" cx="662.8" cy="389.8" rx="3.3" ry="4.5" transform="rotate(-28 662.8 389.8)" style="stroke-width:1.1"/>
<path class="k" style="stroke-width:0.9" d="M660.6,387.2C660.7,387.73 660.87,389.4 661.2,390.4C661.53,391.4 662.37,392.73 662.6,393.2"/>
<ellipse class="k" cx="717.4" cy="357.1" rx="3.3" ry="4.5" transform="rotate(-28 717.4 357.1)" style="stroke-width:1.1"/>
<path class="k" style="stroke-width:0.9" d="M715.2,354.5C715.3,355.03 715.47,356.7 715.8,357.7C716.13,358.7 716.97,360.03 717.2,360.5"/>
<ellipse class="k" cx="720.5" cy="402.1" rx="3.3" ry="4.5" transform="rotate(-28 720.5 402.1)" style="stroke-width:1.1"/>
<path class="k" style="stroke-width:0.9" d="M718.3,399.5C718.4,400.03 718.57,401.7 718.9,402.7C719.23,403.7 720.07,405.03 720.3,405.5"/>
<ellipse class="k" cx="796.9" cy="372.9" rx="3.3" ry="4.5" transform="rotate(-28 796.9 372.9)" style="stroke-width:1.1"/>
<path class="k" style="stroke-width:0.9" d="M794.7,370.3C794.8,370.83 794.97,372.5 795.3,373.5C795.63,374.5 796.47,375.83 796.7,376.3"/>
<ellipse class="k" cx="800.3" cy="416.4" rx="3.3" ry="4.5" transform="rotate(-28 800.3 416.4)" style="stroke-width:1.1"/>
<path class="k" style="stroke-width:0.9" d="M798.1,413.8C798.2,414.33 798.37,416 798.7,417C799.03,418 799.87,419.33 800.1,419.8"/>
<ellipse class="k" cx="854.7" cy="385" rx="3.3" ry="4.5" transform="rotate(-28 854.7 385)" style="stroke-width:1.1"/>
<path class="k" style="stroke-width:0.9" d="M852.5,382.4C852.6,382.93 852.77,384.6 853.1,385.6C853.43,386.6 854.27,387.93 854.5,388.4"/>
<ellipse class="k" cx="858.1" cy="430" rx="3.3" ry="4.5" transform="rotate(-28 858.1 430)" style="stroke-width:1.1"/>
<path class="k" style="stroke-width:0.9" d="M855.9,427.4C856,427.93 856.17,429.6 856.5,430.6C856.83,431.6 857.67,432.93 857.9,433.4"/>
<ellipse class="k" cx="661.6" cy="367.2" rx="9.1" ry="11.6" transform="rotate(-22 661.6 367.2)"/>
<path class="n" d="M654,362.7C654.82,363.12 657.57,363.98 658.9,365.2C660.23,366.42 661.28,368.08 662,370C662.72,371.92 663,375.58 663.2,376.7"/>
<ellipse class="k" cx="721.1" cy="379.4" rx="9.1" ry="11.6" transform="rotate(-22 721.1 379.4)"/>
<path class="k" style="stroke-width:0.9" d="M717.4,368.8C718.22,369.42 721.07,370.57 722.3,372.5C723.53,374.43 724.28,377.67 724.8,380.4C725.32,383.13 725.3,387.48 725.4,388.9"/>
<ellipse class="k" cx="798.4" cy="395.5" rx="9.1" ry="11.6" transform="rotate(-22 798.4 395.5)"/>
<path class="n" d="M793.3,386.4C794.32,387.2 797.88,389.18 799.4,391.2C800.92,393.22 801.75,396.17 802.4,398.5C803.05,400.83 803.15,404.08 803.3,405.2"/>
<ellipse class="k" cx="856.3" cy="407.4" rx="9.1" ry="11.6" transform="rotate(-22 856.3 407.4)"/>
<path class="n" d="M848.4,402.6C849.22,403.12 851.98,404.27 853.3,405.7C854.62,407.13 855.55,409.32 856.3,411.2C857.05,413.08 857.55,416.03 857.8,417"/>
<path class="c" d="M434.4,77V601.5"/>
<path class="k" d="M434.4,236V287.5"/>
<path class="k" d="M434.4,335V353.5"/>
</svg>
</body></html>
